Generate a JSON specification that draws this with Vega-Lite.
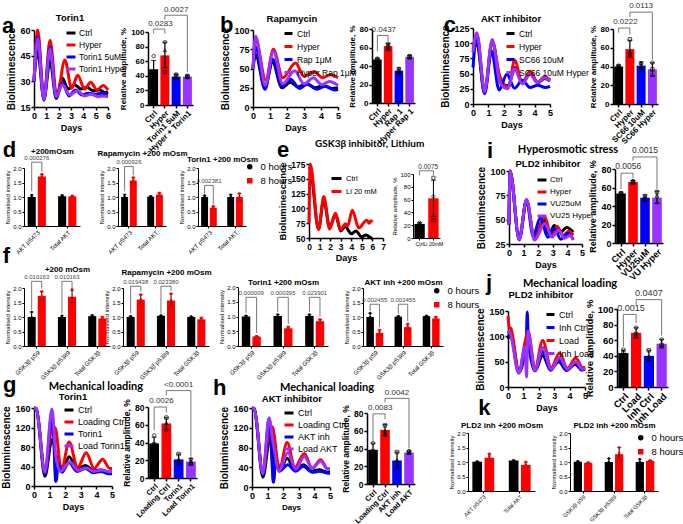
{
"$schema":"https://vega.github.io/schema/vega-lite/v6.json",
"width":683,"height":524,
"autosize":{"type":"none"},
"padding":0,
"background":"white",
"resolve":{"scale":{"x":"independent","y":"independent","color":"independent","shape":"independent","xOffset":"independent"},"axis":{"x":"independent","y":"independent"},"legend":{"color":"independent","shape":"independent"}},
"config":{
 "view":{"stroke":null},
 "font":"Liberation Sans",
 "axis":{"grid":false,"domainColor":"#000","tickColor":"#000","labelColor":"#000","titleColor":"#000","domainWidth":1.5,"tickWidth":1.5,"tickSize":3,"labelFont":"Liberation Sans","titleFont":"Liberation Sans","labelFontWeight":"bold","titleFontWeight":"bold","labelFontSize":8.5,"titleFontSize":9,"labelPadding":1,"titlePadding":3,"labelFlush":false,"labelOverlap":false},
 "legend":{"labelFont":"Liberation Sans","labelColor":"#000","symbolType":"stroke","symbolStrokeWidth":3,"symbolSize":100,"labelFontSize":9,"rowPadding":0,"labelOffset":3,"padding":0,"orient":"none"},
 "text":{"font":"Liberation Sans","color":"#000"}
},
"layer":[
{"layer":[
 {"data":{"values":[
{"s":"Ctrl","t":0,"v":30},{"s":"Ctrl","t":0.3,"v":48},{"s":"Ctrl","t":0.8,"v":19.5},{"s":"Ctrl","t":1.3,"v":42},{"s":"Ctrl","t":1.8,"v":20},{"s":"Ctrl","t":2.3,"v":32},{"s":"Ctrl","t":2.75,"v":25.5},{"s":"Ctrl","t":3.3,"v":28},{"s":"Ctrl","t":3.8,"v":25.5},{"s":"Ctrl","t":4.3,"v":26.5},{"s":"Ctrl","t":4.8,"v":24.5},{"s":"Ctrl","t":5.3,"v":25},{"s":"Ctrl","t":5.8,"v":23.5},{"s":"Ctrl","t":6,"v":24},
{"s":"Hyper","t":0,"v":30},{"s":"Hyper","t":0.3,"v":60},{"s":"Hyper","t":0.8,"v":20},{"s":"Hyper","t":1.3,"v":54},{"s":"Hyper","t":1.85,"v":21},{"s":"Hyper","t":2.5,"v":42.5},{"s":"Hyper","t":3.05,"v":26},{"s":"Hyper","t":3.55,"v":33.5},{"s":"Hyper","t":4.1,"v":25.5},{"s":"Hyper","t":4.6,"v":29.5},{"s":"Hyper","t":5.1,"v":25},{"s":"Hyper","t":5.6,"v":27.5},{"s":"Hyper","t":6,"v":25},
{"s":"Torin1 5uM","t":0,"v":30},{"s":"Torin1 5uM","t":0.3,"v":56},{"s":"Torin1 5uM","t":0.8,"v":19},{"s":"Torin1 5uM","t":1.3,"v":50},{"s":"Torin1 5uM","t":1.8,"v":20.5},{"s":"Torin1 5uM","t":2.3,"v":29},{"s":"Torin1 5uM","t":2.85,"v":21.5},{"s":"Torin1 5uM","t":3.35,"v":25},{"s":"Torin1 5uM","t":3.9,"v":22},{"s":"Torin1 5uM","t":4.4,"v":23},{"s":"Torin1 5uM","t":5,"v":22.5},{"s":"Torin1 5uM","t":5.5,"v":23},{"s":"Torin1 5uM","t":6,"v":22.5},
{"s":"Torin1 Hyper","t":0,"v":30},{"s":"Torin1 Hyper","t":0.3,"v":55},{"s":"Torin1 Hyper","t":0.8,"v":19.5},{"s":"Torin1 Hyper","t":1.3,"v":49},{"s":"Torin1 Hyper","t":1.8,"v":21},{"s":"Torin1 Hyper","t":2.3,"v":28},{"s":"Torin1 Hyper","t":2.9,"v":22},{"s":"Torin1 Hyper","t":3.5,"v":24.5},{"s":"Torin1 Hyper","t":4.1,"v":21.5},{"s":"Torin1 Hyper","t":4.6,"v":22.5},{"s":"Torin1 Hyper","t":5.2,"v":21},{"s":"Torin1 Hyper","t":5.6,"v":21.5},{"s":"Torin1 Hyper","t":6,"v":21}]},
  "mark":{"type":"line","strokeWidth":3,"interpolate":"monotone"},
  "encoding":{
   "x":{"field":"t","type":"quantitative","scale":{"domain":[0,6],"range":[34,108],"nice":false,"zero":false},"axis":{"orient":"bottom","offset":-417,"values":[0,1,2,3,4,5,6],"format":"d","title":"Days","labelFontSize":9,"titleFontSize":9}},
   "y":{"field":"v","type":"quantitative","scale":{"domain":[15,60],"range":[107,30],"nice":false,"zero":false},"axis":{"orient":"left","offset":-34,"values":[15,30,45,60],"format":"d","title":"Bioluminescence","labelFontSize":9,"titleFontSize":10}},
   "color":{"field":"s","type":"nominal","scale":{"domain":["Ctrl","Hyper","Torin1 5uM","Torin1 Hyper"],"range":["#000000","#ff0000","#0000ff","#9933ff"]},"legend":{"title":null,"legendX":65,"legendY":27,"labelFontSize":8.5,"labelOffset":2,"symbolSize":81}}}},
 {"data":{"values":[{"t":2.92,"v":65.3,"lab":"Torin1"}]},"mark":{"type":"text","fontWeight":"bold","fontSize":9.5,"baseline":"alphabetic"},"encoding":{"x":{"field":"t","type":"quantitative"},"y":{"field":"v","type":"quantitative"},"text":{"field":"lab"}}},
 {"data":{"values":[{"t":-2.6,"v":58.2,"lab":"a"}]},"mark":{"type":"text","fontWeight":"bold","fontSize":22,"align":"left","baseline":"alphabetic"},"encoding":{"x":{"field":"t","type":"quantitative"},"y":{"field":"v","type":"quantitative"},"text":{"field":"lab"}}}
]},
{"encoding":{"x":{"field":"g","type":"nominal","scale":{"domain":["Ctrl","Hyper","Torin1 5uM","Hyper + Torin1"],"range":[148,193],"paddingInner":0.2,"paddingOuter":0.1},"axis":{"orient":"bottom","offset":-419,"title":null,"labelAngle":-45,"labelFontSize":8}}},
 "layer":[
  {"data":{"values":[{"g":"Ctrl","m":49,"lo":37,"hi":61},{"g":"Hyper","m":68,"lo":51,"hi":86},{"g":"Torin1 5uM","m":39,"lo":36,"hi":42},{"g":"Hyper + Torin1","m":39,"lo":37,"hi":41}]},
   "layer":[
    {"mark":"bar","encoding":{"y":{"field":"m","type":"quantitative","scale":{"domain":[0,100],"range":[105,32],"nice":false},"axis":{"orient":"left","offset":-148,"values":[0,20,40,60,80,100],"title":"Relative amplitude, %","labelFontSize":8,"titleFontSize":8}},"color":{"field":"g","type":"nominal","scale":{"domain":["Ctrl","Hyper","Torin1 5uM","Hyper + Torin1"],"range":["#000000","#ff0000","#0000ff","#9933ff"]},"legend":null}}},
    {"mark":{"type":"rule","color":"#000","strokeWidth":1.2},"encoding":{"y":{"field":"lo","type":"quantitative"},"y2":{"field":"hi"}}},
    {"mark":{"type":"tick","color":"#000","size":5,"thickness":1.2},"encoding":{"y":{"field":"hi","type":"quantitative"}}},
    {"mark":{"type":"tick","color":"#000","size":5,"thickness":1.2},"encoding":{"y":{"field":"lo","type":"quantitative"}}}]},
  {"data":{"values":[{"g":"Ctrl","v":67,"r":1},{"g":"Ctrl","v":42,"r":2},{"g":"Ctrl","v":38,"r":3},{"g":"Hyper","v":86,"r":1},{"g":"Hyper","v":75,"r":3},{"g":"Hyper","v":45,"r":2},{"g":"Torin1 5uM","v":42,"r":1},{"g":"Torin1 5uM","v":40,"r":2},{"g":"Torin1 5uM","v":38,"r":3},{"g":"Torin1 5uM","v":36,"r":1},{"g":"Hyper + Torin1","v":40,"r":1},{"g":"Hyper + Torin1","v":39,"r":2},{"g":"Hyper + Torin1","v":38,"r":3}]},
   "mark":{"type":"point","filled":false,"color":"#000","size":12,"strokeWidth":1},
   "encoding":{"y":{"field":"v","type":"quantitative"},"shape":{"field":"r","type":"nominal","scale":{"domain":[1,2,3],"range":["circle","square","triangle-up"]},"legend":null}}},
  {"data":{"values":[{"b":1,"o":1,"g":"Ctrl","y":98},{"b":1,"o":2,"g":"Ctrl","y":104},{"b":1,"o":3,"g":"Hyper","y":104},{"b":1,"o":4,"g":"Hyper","y":98},{"b":2,"o":1,"g":"Hyper","y":117},{"b":2,"o":2,"g":"Hyper","y":123},{"b":2,"o":3,"g":"Hyper + Torin1","y":123},{"b":2,"o":4,"g":"Hyper + Torin1","y":45}]},
   "mark":{"type":"line","color":"#777","strokeWidth":1},
   "encoding":{"y":{"field":"y","type":"quantitative"},"detail":{"field":"b"},"order":{"field":"o"}}},
  {"data":{"values":[{"g":"Hyper","y":106,"p":"0.0283"}]},"mark":{"type":"text","fontSize":8,"baseline":"bottom","color":"#333"},
   "encoding":{"x":{"field":"g","type":"nominal","bandPosition":0},"y":{"field":"y","type":"quantitative"},"text":{"field":"p"}}},
  {"data":{"values":[{"g":"Torin1 5uM","y":125,"p":"0.0027"}]},"mark":{"type":"text","fontSize":8,"baseline":"bottom","color":"#333"},
   "encoding":{"y":{"field":"y","type":"quantitative"},"text":{"field":"p"}}}
 ]},
{"layer":[
 {"data":{"values":[
{"s":"Ctrl","t":0,"v":50},{"s":"Ctrl","t":0.15,"v":68},{"s":"Ctrl","t":0.7,"v":25},{"s":"Ctrl","t":1.15,"v":58},{"s":"Ctrl","t":1.7,"v":25},{"s":"Ctrl","t":2.2,"v":32},{"s":"Ctrl","t":2.65,"v":26},{"s":"Ctrl","t":3.15,"v":30},{"s":"Ctrl","t":3.65,"v":25},{"s":"Ctrl","t":4.15,"v":28},{"s":"Ctrl","t":4.65,"v":24},{"s":"Ctrl","t":5,"v":25},
{"s":"Hyper","t":0,"v":50},{"s":"Hyper","t":0.15,"v":88},{"s":"Hyper","t":0.75,"v":35},{"s":"Hyper","t":1.2,"v":75},{"s":"Hyper","t":1.75,"v":38},{"s":"Hyper","t":2.5,"v":57},{"s":"Hyper","t":3.0,"v":40},{"s":"Hyper","t":3.6,"v":46},{"s":"Hyper","t":4.1,"v":38},{"s":"Hyper","t":4.55,"v":42},{"s":"Hyper","t":5,"v":38},
{"s":"Rap 1μM","t":0,"v":50},{"s":"Rap 1μM","t":0.15,"v":78},{"s":"Rap 1μM","t":0.7,"v":23},{"s":"Rap 1μM","t":1.15,"v":62},{"s":"Rap 1μM","t":1.7,"v":27},{"s":"Rap 1μM","t":2.2,"v":36},{"s":"Rap 1μM","t":2.75,"v":24},{"s":"Rap 1μM","t":3.2,"v":30},{"s":"Rap 1μM","t":3.75,"v":23},{"s":"Rap 1μM","t":4.25,"v":27},{"s":"Rap 1μM","t":4.8,"v":22},{"s":"Rap 1μM","t":5,"v":23},
{"s":"Hyper Rap 1μM","t":0,"v":50},{"s":"Hyper Rap 1μM","t":0.15,"v":92},{"s":"Hyper Rap 1μM","t":0.72,"v":28},{"s":"Hyper Rap 1μM","t":1.2,"v":72},{"s":"Hyper Rap 1μM","t":1.75,"v":30},{"s":"Hyper Rap 1μM","t":2.45,"v":47},{"s":"Hyper Rap 1μM","t":3.0,"v":30},{"s":"Hyper Rap 1μM","t":3.55,"v":38},{"s":"Hyper Rap 1μM","t":4.05,"v":29},{"s":"Hyper Rap 1μM","t":4.5,"v":33},{"s":"Hyper Rap 1μM","t":5,"v":28}]},
  "mark":{"type":"line","strokeWidth":3,"interpolate":"monotone"},
  "encoding":{
   "x":{"field":"t","type":"quantitative","scale":{"domain":[0,5],"range":[253,338],"nice":false,"zero":false},"axis":{"orient":"bottom","offset":-417,"values":[0,1,2,3,4,5],"format":"d","title":"Days","labelFontSize":9,"titleFontSize":9}},
   "y":{"field":"v","type":"quantitative","scale":{"domain":[0,100],"range":[107,30],"nice":false},"axis":{"orient":"left","offset":-253,"values":[0,25,50,75,100],"format":"d","title":"Bioluminescence","labelFontSize":9,"titleFontSize":10}},
   "color":{"field":"s","type":"nominal","scale":{"domain":["Ctrl","Hyper","Rap 1μM","Hyper Rap 1μM"],"range":["#000000","#ff0000","#0000ff","#9933ff"]},"legend":{"title":null,"legendX":283,"legendY":28,"labelFontSize":8.5,"symbolSize":64}}}},
 {"data":{"values":[{"t":2.29,"v":110.4,"lab":"Rapamycin"}]},"mark":{"type":"text","fontWeight":"bold","fontSize":9.5,"baseline":"alphabetic"},"encoding":{"x":{"field":"t","type":"quantitative"},"y":{"field":"v","type":"quantitative"},"text":{"field":"lab"}}},
 {"data":{"values":[{"t":-1.94,"v":97.4,"lab":"b"}]},"mark":{"type":"text","fontWeight":"bold","fontSize":22,"align":"left","baseline":"alphabetic"},"encoding":{"x":{"field":"t","type":"quantitative"},"y":{"field":"v","type":"quantitative"},"text":{"field":"lab"}}}
]},
{"encoding":{"x":{"field":"g","type":"nominal","scale":{"domain":["Ctrl","Hyper","Rap 1","Hyper Rap 1"],"range":[372,415],"paddingInner":0.2,"paddingOuter":0.1},"axis":{"orient":"bottom","offset":-421,"title":null,"labelAngle":-45,"labelFontSize":8}}},
 "layer":[
  {"data":{"values":[{"g":"Ctrl","m":47,"lo":45.5,"hi":48.5},{"g":"Hyper","m":61.5,"lo":58,"hi":64.5},{"g":"Rap 1","m":35,"lo":32,"hi":38},{"g":"Hyper Rap 1","m":50,"lo":48.5,"hi":51.5}]},
   "layer":[
    {"mark":"bar","encoding":{"y":{"field":"m","type":"quantitative","scale":{"domain":[0,80],"range":[103,29],"nice":false},"axis":{"orient":"left","offset":-372,"values":[0,20,40,60,80],"title":"Relative amplitude, %","labelFontSize":8,"titleFontSize":8}},"color":{"field":"g","type":"nominal","scale":{"domain":["Ctrl","Hyper","Rap 1","Hyper Rap 1"],"range":["#000000","#ff0000","#0000ff","#9933ff"]},"legend":null}}},
    {"mark":{"type":"rule","color":"#000","strokeWidth":1.2},"encoding":{"y":{"field":"lo","type":"quantitative"},"y2":{"field":"hi"}}},
    {"mark":{"type":"tick","color":"#000","size":5,"thickness":1.2},"encoding":{"y":{"field":"hi","type":"quantitative"}}},
    {"mark":{"type":"tick","color":"#000","size":5,"thickness":1.2},"encoding":{"y":{"field":"lo","type":"quantitative"}}}]},
  {"data":{"values":[{"g":"Ctrl","v":48,"r":1},{"g":"Ctrl","v":47,"r":2},{"g":"Ctrl","v":46,"r":3},{"g":"Hyper","v":64,"r":1},{"g":"Hyper","v":61,"r":2},{"g":"Hyper","v":58,"r":3},{"g":"Rap 1","v":37,"r":1},{"g":"Rap 1","v":34,"r":2},{"g":"Rap 1","v":32,"r":3},{"g":"Hyper Rap 1","v":51,"r":1},{"g":"Hyper Rap 1","v":50,"r":2},{"g":"Hyper Rap 1","v":49,"r":3}]},
   "mark":{"type":"point","filled":false,"color":"#000","size":12,"strokeWidth":1},
   "encoding":{"y":{"field":"v","type":"quantitative"},"shape":{"field":"r","type":"nominal","scale":{"domain":[1,2,3],"range":["circle","square","triangle-up"]},"legend":null}}},
  {"data":{"values":[{"b":1,"o":1,"g":"Ctrl","y":56},{"b":1,"o":2,"g":"Ctrl","y":73},{"b":1,"o":3,"g":"Hyper","y":73},{"b":1,"o":4,"g":"Hyper","y":67}]},
   "mark":{"type":"line","color":"#777","strokeWidth":1},
   "encoding":{"y":{"field":"y","type":"quantitative"},"detail":{"field":"b"},"order":{"field":"o"}}},
  {"data":{"values":[{"g":"Hyper","y":74.5,"p":"0.0437"}]},"mark":{"type":"text","fontSize":8,"baseline":"bottom","color":"#333"},
   "encoding":{"x":{"field":"g","type":"nominal","bandPosition":0},"y":{"field":"y","type":"quantitative"},"text":{"field":"p"}}}
 ]},
{"layer":[
 {"data":{"values":[
{"s":"Ctrl","t":0,"v":85},{"s":"Ctrl","t":0.25,"v":100},{"s":"Ctrl","t":0.75,"v":18},{"s":"Ctrl","t":1.25,"v":103},{"s":"Ctrl","t":1.8,"v":35},{"s":"Ctrl","t":2.3,"v":30},{"s":"Ctrl","t":2.7,"v":60},{"s":"Ctrl","t":3.2,"v":35},{"s":"Ctrl","t":3.7,"v":50},{"s":"Ctrl","t":4.2,"v":35},{"s":"Ctrl","t":4.65,"v":42},{"s":"Ctrl","t":5,"v":38},
{"s":"Hyper","t":0,"v":90},{"s":"Hyper","t":0.25,"v":115},{"s":"Hyper","t":0.75,"v":22},{"s":"Hyper","t":1.25,"v":103},{"s":"Hyper","t":1.75,"v":45},{"s":"Hyper","t":2.3,"v":27},{"s":"Hyper","t":2.7,"v":72},{"s":"Hyper","t":3.2,"v":35},{"s":"Hyper","t":3.7,"v":54},{"s":"Hyper","t":4.2,"v":36},{"s":"Hyper","t":4.65,"v":45},{"s":"Hyper","t":5,"v":40},
{"s":"SC66 10uM","t":0,"v":60},{"s":"SC66 10uM","t":0.25,"v":113},{"s":"SC66 10uM","t":0.75,"v":17},{"s":"SC66 10uM","t":1.2,"v":87},{"s":"SC66 10uM","t":1.7,"v":23},{"s":"SC66 10uM","t":2.2,"v":49},{"s":"SC66 10uM","t":2.7,"v":26},{"s":"SC66 10uM","t":3.2,"v":39},{"s":"SC66 10uM","t":3.7,"v":27},{"s":"SC66 10uM","t":4.2,"v":31},{"s":"SC66 10uM","t":4.7,"v":27},{"s":"SC66 10uM","t":5,"v":29},
{"s":"SC66 10uM Hyper","t":0,"v":85},{"s":"SC66 10uM Hyper","t":0.25,"v":117},{"s":"SC66 10uM Hyper","t":0.75,"v":20},{"s":"SC66 10uM Hyper","t":1.25,"v":106},{"s":"SC66 10uM Hyper","t":1.75,"v":35},{"s":"SC66 10uM Hyper","t":2.25,"v":25},{"s":"SC66 10uM Hyper","t":2.7,"v":58},{"s":"SC66 10uM Hyper","t":3.2,"v":33},{"s":"SC66 10uM Hyper","t":3.7,"v":49},{"s":"SC66 10uM Hyper","t":4.2,"v":35},{"s":"SC66 10uM Hyper","t":4.65,"v":43},{"s":"SC66 10uM Hyper","t":5,"v":38}]},
  "mark":{"type":"line","strokeWidth":3,"interpolate":"monotone"},
  "encoding":{
   "x":{"field":"t","type":"quantitative","scale":{"domain":[0,5],"range":[473,550],"nice":false,"zero":false},"axis":{"orient":"bottom","offset":-420,"values":[0,1,2,3,4,5],"format":"d","title":"Days","labelFontSize":9,"titleFontSize":9}},
   "y":{"field":"v","type":"quantitative","scale":{"domain":[0,125],"range":[104,28],"nice":false},"axis":{"orient":"left","offset":-473,"values":[0,25,50,75,100,125],"format":"d","title":"Bioluminescence","labelFontSize":9,"titleFontSize":10}},
   "color":{"field":"s","type":"nominal","scale":{"domain":["Ctrl","Hyper","SC66 10uM","SC66 10uM Hyper"],"range":["#000000","#ff0000","#0000ff","#9933ff"]},"legend":{"title":null,"legendX":505,"legendY":28,"labelFontSize":8.5,"symbolSize":64}}}},
 {"data":{"values":[{"t":2.47,"v":134.9,"lab":"AKT inhibitor"}]},"mark":{"type":"text","fontWeight":"bold","fontSize":9.5,"baseline":"alphabetic"},"encoding":{"x":{"field":"t","type":"quantitative"},"y":{"field":"v","type":"quantitative"},"text":{"field":"lab"}}},
 {"data":{"values":[{"t":-1.9,"v":118.4,"lab":"c"}]},"mark":{"type":"text","fontWeight":"bold","fontSize":22,"align":"left","baseline":"alphabetic"},"encoding":{"x":{"field":"t","type":"quantitative"},"y":{"field":"v","type":"quantitative"},"text":{"field":"lab"}}}
]},
{"encoding":{"x":{"field":"g","type":"nominal","scale":{"domain":["Ctrl","Hyper","SC66 10uM","SC66 Hyper"],"range":[613,658],"paddingInner":0.2,"paddingOuter":0.1},"axis":{"orient":"bottom","offset":-420,"title":null,"labelAngle":-45,"labelFontSize":8}}},
 "layer":[
  {"data":{"values":[{"g":"Ctrl","m":40,"lo":39,"hi":41.5},{"g":"Hyper","m":58.5,"lo":50,"hi":68},{"g":"SC66 10uM","m":41,"lo":37,"hi":45},{"g":"SC66 Hyper","m":37,"lo":30,"hi":44}]},
   "layer":[
    {"mark":"bar","encoding":{"y":{"field":"m","type":"quantitative","scale":{"domain":[0,80],"range":[104,29],"nice":false},"axis":{"orient":"left","offset":-613,"values":[0,20,40,60,80],"title":"Relative amplitude, %","labelFontSize":8,"titleFontSize":8}},"color":{"field":"g","type":"nominal","scale":{"domain":["Ctrl","Hyper","SC66 10uM","SC66 Hyper"],"range":["#000000","#ff0000","#0000ff","#9933ff"]},"legend":null}}},
    {"mark":{"type":"rule","color":"#000","strokeWidth":1.2},"encoding":{"y":{"field":"lo","type":"quantitative"},"y2":{"field":"hi"}}},
    {"mark":{"type":"tick","color":"#000","size":5,"thickness":1.2},"encoding":{"y":{"field":"hi","type":"quantitative"}}},
    {"mark":{"type":"tick","color":"#000","size":5,"thickness":1.2},"encoding":{"y":{"field":"lo","type":"quantitative"}}}]},
  {"data":{"values":[{"g":"Ctrl","v":41,"r":1},{"g":"Ctrl","v":40,"r":2},{"g":"Ctrl","v":39.5,"r":3},{"g":"Hyper","v":69,"r":2},{"g":"Hyper","v":54,"r":1},{"g":"Hyper","v":53,"r":3},{"g":"SC66 10uM","v":44,"r":3},{"g":"SC66 10uM","v":43,"r":1},{"g":"SC66 10uM","v":37,"r":2},{"g":"SC66 Hyper","v":44,"r":1},{"g":"SC66 Hyper","v":37,"r":2},{"g":"SC66 Hyper","v":31,"r":3}]},
   "mark":{"type":"point","filled":false,"color":"#000","size":12,"strokeWidth":1},
   "encoding":{"y":{"field":"v","type":"quantitative"},"shape":{"field":"r","type":"nominal","scale":{"domain":[1,2,3],"range":["circle","square","triangle-up"]},"legend":null}}},
  {"data":{"values":[{"b":1,"o":1,"g":"Ctrl","y":76},{"b":1,"o":2,"g":"Ctrl","y":81},{"b":1,"o":3,"g":"Hyper","y":81},{"b":1,"o":4,"g":"Hyper","y":74},{"b":2,"o":1,"g":"Hyper","y":93},{"b":2,"o":2,"g":"Hyper","y":98},{"b":2,"o":3,"g":"SC66 Hyper","y":98},{"b":2,"o":4,"g":"SC66 Hyper","y":47}]},
   "mark":{"type":"line","color":"#777","strokeWidth":1},
   "encoding":{"y":{"field":"y","type":"quantitative"},"detail":{"field":"b"},"order":{"field":"o"}}},
  {"data":{"values":[{"g":"Hyper","y":83,"p":"0.0222"}]},"mark":{"type":"text","fontSize":8,"baseline":"bottom","color":"#333"},
   "encoding":{"x":{"field":"g","type":"nominal","bandPosition":0},"y":{"field":"y","type":"quantitative"},"text":{"field":"p"}}},
  {"data":{"values":[{"g":"SC66 10uM","y":100,"p":"0.0113"}]},"mark":{"type":"text","fontSize":8,"baseline":"bottom","color":"#333"},
   "encoding":{"y":{"field":"y","type":"quantitative"},"text":{"field":"p"}}}
 ]},
{"encoding":{"x":{"field":"g","type":"nominal","scale":{"domain":["AKT pS473","Total AKT"],"range":[24,80],"paddingInner":0.4,"paddingOuter":0.12},"axis":{"orient":"bottom","offset":-298,"title":"+200mOsm","titleY":-73,"titleBaseline":"alphabetic","titleFontSize":8,"labelAngle":-45,"labelFontSize":6,"labelFontWeight":"normal","domainWidth":1,"tickWidth":1,"tickSize":2}}},
 "layer":[
  {"data":{"values":[{"g":"AKT pS473","h":"0 hours","m":1.0,"lo":0.93,"hi":1.07},{"g":"AKT pS473","h":"8 hours","m":1.71,"lo":1.65,"hi":1.78},{"g":"Total AKT","h":"0 hours","m":1.03,"lo":1.0,"hi":1.06},{"g":"Total AKT","h":"8 hours","m":1.02,"lo":1.0,"hi":1.04}]},
   "encoding":{"xOffset":{"field":"h","type":"nominal","scale":{"domain":["0 hours","8 hours"],"paddingInner":0.2}}},
   "layer":[
    {"mark":"bar","encoding":{"y":{"field":"m","type":"quantitative","scale":{"domain":[0,2],"range":[226,168],"nice":false},"axis":{"orient":"left","offset":-24,"values":[0,0.5,1,1.5,2],"format":".1f","title":"Normalised intensity","labelFontSize":6,"titleFontSize":6,"labelFontWeight":"normal","titleFontWeight":"normal","domainWidth":1,"tickWidth":1,"tickSize":2,"titlePadding":2}},"color":{"field":"h","type":"nominal","scale":{"domain":["0 hours","8 hours"],"range":["#000000","#ff0000"]},"legend":null}}},
    {"mark":{"type":"rule","color":"#000","strokeWidth":1},"encoding":{"y":{"field":"lo","type":"quantitative"},"y2":{"field":"hi"}}},
    {"mark":{"type":"tick","color":"#000","size":4,"thickness":1},"encoding":{"y":{"field":"hi","type":"quantitative"}}},
    {"mark":{"type":"tick","color":"#000","size":4,"thickness":1},"encoding":{"y":{"field":"lo","type":"quantitative"}}}]},
  {"data":{"values":[{"g":"AKT pS473","h":"0 hours","v":1.07},{"g":"AKT pS473","h":"0 hours","v":1.0},{"g":"AKT pS473","h":"0 hours","v":0.94},{"g":"AKT pS473","h":"8 hours","v":1.78},{"g":"AKT pS473","h":"8 hours","v":1.7},{"g":"AKT pS473","h":"8 hours","v":1.66},{"g":"Total AKT","h":"0 hours","v":1.06},{"g":"Total AKT","h":"0 hours","v":1.03},{"g":"Total AKT","h":"0 hours","v":1.0},{"g":"Total AKT","h":"8 hours","v":1.04},{"g":"Total AKT","h":"8 hours","v":1.02},{"g":"Total AKT","h":"8 hours","v":1.0}]},
   "mark":{"type":"point","filled":true,"size":6,"opacity":1},
   "encoding":{"xOffset":{"field":"h","type":"nominal"},"y":{"field":"v","type":"quantitative"},"color":{"field":"h","type":"nominal","legend":null},"shape":{"field":"h","type":"nominal","scale":{"domain":["0 hours","8 hours"],"range":["circle","square"]},"legend":null}}},
  {"data":{"values":[{"b":1,"o":1,"g":"AKT pS473","h":"0 hours","y":1.2},{"b":1,"o":2,"g":"AKT pS473","h":"0 hours","y":2.2},{"b":1,"o":3,"g":"AKT pS473","h":"8 hours","y":2.2},{"b":1,"o":4,"g":"AKT pS473","h":"8 hours","y":1.87}]},
   "mark":{"type":"line","color":"#555","strokeWidth":0.8},
   "encoding":{"xOffset":{"field":"h","type":"nominal"},"y":{"field":"y","type":"quantitative"},"detail":{"field":"b"},"order":{"field":"o"}}},
  {"data":{"values":[{"g":"AKT pS473","y":2.25,"p":"0.000276"}]},"mark":{"type":"text","fontSize":6,"baseline":"bottom","color":"#444"},
   "encoding":{"y":{"field":"y","type":"quantitative"},"text":{"field":"p"}}},
  {"data":{"values":[{"g":"AKT pS473","y":2.38,"p":"d"}]},"mark":{"type":"text","fontSize":22,"fontWeight":"bold","align":"left","baseline":"alphabetic","dx":-34},
   "encoding":{"y":{"field":"y","type":"quantitative"},"text":{"field":"p"}}}
 ]},
{"encoding":{"x":{"field":"g","type":"nominal","scale":{"domain":["AKT pS473","Total AKT"],"range":[118,166],"paddingInner":0.4,"paddingOuter":0.12},"axis":{"orient":"bottom","offset":-298,"title":"Rapamycin +200 mOsm","titleY":-71,"titleBaseline":"alphabetic","titleFontSize":8,"labelAngle":-45,"labelFontSize":6,"labelFontWeight":"normal","domainWidth":1,"tickWidth":1,"tickSize":2}}},
 "layer":[
  {"data":{"values":[{"g":"AKT pS473","h":"0 hours","m":1.0,"lo":0.93,"hi":1.08},{"g":"AKT pS473","h":"8 hours","m":1.57,"lo":1.49,"hi":1.67},{"g":"Total AKT","h":"0 hours","m":1.01,"lo":0.99,"hi":1.03},{"g":"Total AKT","h":"8 hours","m":1.08,"lo":1.02,"hi":1.14}]},
   "encoding":{"xOffset":{"field":"h","type":"nominal","scale":{"domain":["0 hours","8 hours"],"paddingInner":0.2}}},
   "layer":[
    {"mark":"bar","encoding":{"y":{"field":"m","type":"quantitative","scale":{"domain":[0,2],"range":[226,168],"nice":false},"axis":{"orient":"left","offset":-118,"values":[0,0.5,1,1.5,2],"format":".1f","title":"Normalised intensity","labelFontSize":6,"titleFontSize":6,"labelFontWeight":"normal","titleFontWeight":"normal","domainWidth":1,"tickWidth":1,"tickSize":2,"titlePadding":2}},"color":{"field":"h","type":"nominal","scale":{"domain":["0 hours","8 hours"],"range":["#000000","#ff0000"]},"legend":null}}},
    {"mark":{"type":"rule","color":"#000","strokeWidth":1},"encoding":{"y":{"field":"lo","type":"quantitative"},"y2":{"field":"hi"}}},
    {"mark":{"type":"tick","color":"#000","size":4,"thickness":1},"encoding":{"y":{"field":"hi","type":"quantitative"}}},
    {"mark":{"type":"tick","color":"#000","size":4,"thickness":1},"encoding":{"y":{"field":"lo","type":"quantitative"}}}]},
  {"data":{"values":[{"g":"AKT pS473","h":"0 hours","v":1.08},{"g":"AKT pS473","h":"0 hours","v":1.0},{"g":"AKT pS473","h":"0 hours","v":0.93},{"g":"AKT pS473","h":"8 hours","v":1.67},{"g":"AKT pS473","h":"8 hours","v":1.57},{"g":"AKT pS473","h":"8 hours","v":1.5},{"g":"Total AKT","h":"0 hours","v":1.03},{"g":"Total AKT","h":"0 hours","v":1.01},{"g":"Total AKT","h":"0 hours","v":0.99},{"g":"Total AKT","h":"8 hours","v":1.14},{"g":"Total AKT","h":"8 hours","v":1.08},{"g":"Total AKT","h":"8 hours","v":1.02}]},
   "mark":{"type":"point","filled":true,"size":6,"opacity":1},
   "encoding":{"xOffset":{"field":"h","type":"nominal"},"y":{"field":"v","type":"quantitative"},"color":{"field":"h","type":"nominal","legend":null},"shape":{"field":"h","type":"nominal","scale":{"domain":["0 hours","8 hours"],"range":["circle","square"]},"legend":null}}},
  {"data":{"values":[{"b":1,"o":1,"g":"AKT pS473","h":"0 hours","y":1.2},{"b":1,"o":2,"g":"AKT pS473","h":"0 hours","y":2.05},{"b":1,"o":3,"g":"AKT pS473","h":"8 hours","y":2.05},{"b":1,"o":4,"g":"AKT pS473","h":"8 hours","y":1.75}]},
   "mark":{"type":"line","color":"#555","strokeWidth":0.8},
   "encoding":{"xOffset":{"field":"h","type":"nominal"},"y":{"field":"y","type":"quantitative"},"detail":{"field":"b"},"order":{"field":"o"}}},
  {"data":{"values":[{"g":"AKT pS473","y":2.1,"p":"0.000926"}]},"mark":{"type":"text","fontSize":6,"baseline":"bottom","color":"#444"},
   "encoding":{"y":{"field":"y","type":"quantitative"},"text":{"field":"p"}}}
 ]},
{"encoding":{"x":{"field":"g","type":"nominal","scale":{"domain":["AKT pS473","Total AKT"],"range":[198,246],"paddingInner":0.4,"paddingOuter":0.12},"axis":{"orient":"bottom","offset":-298,"title":"Torin1 +200 mOsm","titleY":-65,"titleBaseline":"alphabetic","titleFontSize":8,"labelAngle":-45,"labelFontSize":6,"labelFontWeight":"normal","domainWidth":1,"tickWidth":1,"tickSize":2}}},
 "layer":[
  {"data":{"values":[{"g":"AKT pS473","h":"0 hours","m":1.0,"lo":0.95,"hi":1.05},{"g":"AKT pS473","h":"8 hours","m":0.63,"lo":0.58,"hi":0.68},{"g":"Total AKT","h":"0 hours","m":1.0,"lo":0.92,"hi":1.08},{"g":"Total AKT","h":"8 hours","m":1.0,"lo":0.88,"hi":1.12}]},
   "encoding":{"xOffset":{"field":"h","type":"nominal","scale":{"domain":["0 hours","8 hours"],"paddingInner":0.2}}},
   "layer":[
    {"mark":"bar","encoding":{"y":{"field":"m","type":"quantitative","scale":{"domain":[0,2],"range":[226,168],"nice":false},"axis":{"orient":"left","offset":-198,"values":[0,0.5,1,1.5,2],"format":".1f","title":"Normalised intensity","labelFontSize":6,"titleFontSize":6,"labelFontWeight":"normal","titleFontWeight":"normal","domainWidth":1,"tickWidth":1,"tickSize":2,"titlePadding":2}},"color":{"field":"h","type":"nominal","scale":{"domain":["0 hours","8 hours"],"range":["#000000","#ff0000"]},"legend":{"title":null,"legendX":245,"legendY":162,"symbolStrokeWidth":0,"symbolSize":30,"labelFontSize":9.5,"rowPadding":3,"labelOffset":6}}}},
    {"mark":{"type":"rule","color":"#000","strokeWidth":1},"encoding":{"y":{"field":"lo","type":"quantitative"},"y2":{"field":"hi"}}},
    {"mark":{"type":"tick","color":"#000","size":4,"thickness":1},"encoding":{"y":{"field":"hi","type":"quantitative"}}},
    {"mark":{"type":"tick","color":"#000","size":4,"thickness":1},"encoding":{"y":{"field":"lo","type":"quantitative"}}}]},
  {"data":{"values":[{"g":"AKT pS473","h":"0 hours","v":1.05},{"g":"AKT pS473","h":"0 hours","v":1.0},{"g":"AKT pS473","h":"0 hours","v":0.95},{"g":"AKT pS473","h":"8 hours","v":0.68},{"g":"AKT pS473","h":"8 hours","v":0.62},{"g":"AKT pS473","h":"8 hours","v":0.58},{"g":"Total AKT","h":"0 hours","v":1.08},{"g":"Total AKT","h":"0 hours","v":1.0},{"g":"Total AKT","h":"0 hours","v":0.92},{"g":"Total AKT","h":"8 hours","v":1.12},{"g":"Total AKT","h":"8 hours","v":0.98},{"g":"Total AKT","h":"8 hours","v":0.88}]},
   "mark":{"type":"point","filled":true,"size":6,"opacity":1},
   "encoding":{"xOffset":{"field":"h","type":"nominal"},"y":{"field":"v","type":"quantitative"},"color":{"field":"h","type":"nominal","legend":{"title":null,"legendX":245,"legendY":162,"symbolStrokeWidth":0,"symbolSize":30,"labelFontSize":9.5,"rowPadding":3,"labelOffset":6}},"shape":{"field":"h","type":"nominal","scale":{"domain":["0 hours","8 hours"],"range":["circle","square"]},"legend":{"title":null,"legendX":245,"legendY":162,"symbolStrokeWidth":0,"symbolSize":30,"labelFontSize":9.5,"rowPadding":3,"labelOffset":6}}}},
  {"data":{"values":[{"b":1,"o":1,"g":"AKT pS473","h":"0 hours","y":1.1},{"b":1,"o":2,"g":"AKT pS473","h":"0 hours","y":1.4},{"b":1,"o":3,"g":"AKT pS473","h":"8 hours","y":1.4},{"b":1,"o":4,"g":"AKT pS473","h":"8 hours","y":0.75}]},
   "mark":{"type":"line","color":"#555","strokeWidth":0.8},
   "encoding":{"xOffset":{"field":"h","type":"nominal"},"y":{"field":"y","type":"quantitative"},"detail":{"field":"b"},"order":{"field":"o"}}},
  {"data":{"values":[{"g":"AKT pS473","y":1.45,"p":"0.002381"}]},"mark":{"type":"text","fontSize":6,"baseline":"bottom","color":"#444"},
   "encoding":{"y":{"field":"y","type":"quantitative"},"text":{"field":"p"}}}
 ]},
{"layer":[
 {"data":{"values":[
{"s":"Ctrl","t":0,"v":170},{"s":"Ctrl","t":0.15,"v":166},{"s":"Ctrl","t":0.9,"v":65},{"s":"Ctrl","t":1.4,"v":115},{"s":"Ctrl","t":1.95,"v":68},{"s":"Ctrl","t":2.5,"v":90},{"s":"Ctrl","t":3.0,"v":62},{"s":"Ctrl","t":3.45,"v":70},{"s":"Ctrl","t":3.75,"v":62},{"s":"Ctrl","t":4.0,"v":57},{"s":"Ctrl","t":4.45,"v":62},{"s":"Ctrl","t":4.95,"v":52},{"s":"Ctrl","t":5.4,"v":55},{"s":"Ctrl","t":5.9,"v":50},{"s":"Ctrl","t":6,"v":50},
{"s":"Li 20 mM","t":0,"v":75},{"s":"Li 20 mM","t":0.12,"v":175},{"s":"Li 20 mM","t":0.9,"v":64},{"s":"Li 20 mM","t":1.4,"v":120},{"s":"Li 20 mM","t":1.95,"v":65},{"s":"Li 20 mM","t":2.5,"v":92},{"s":"Li 20 mM","t":3.0,"v":64},{"s":"Li 20 mM","t":3.45,"v":74},{"s":"Li 20 mM","t":3.65,"v":70},{"s":"Li 20 mM","t":4.1,"v":97},{"s":"Li 20 mM","t":4.7,"v":67},{"s":"Li 20 mM","t":5.45,"v":80},{"s":"Li 20 mM","t":5.7,"v":75},{"s":"Li 20 mM","t":5.85,"v":79},{"s":"Li 20 mM","t":6,"v":77}]},
  "mark":{"type":"line","strokeWidth":3,"interpolate":"monotone"},
  "encoding":{
   "x":{"field":"t","type":"quantitative","scale":{"domain":[0,7],"range":[309,383],"nice":false,"zero":false},"axis":{"orient":"bottom","offset":-286,"values":[0,1,2,3,4,5,6,7],"format":"d","title":"Days","labelFontSize":8.5,"titleFontSize":9}},
   "y":{"field":"v","type":"quantitative","scale":{"domain":[50,175],"range":[238,164],"nice":false,"zero":false},"axis":{"orient":"left","offset":-309,"values":[50,75,100,125,150,175],"format":"d","title":"Bioluminescence","labelFontSize":8.5,"titleFontSize":9.5}},
   "color":{"field":"s","type":"nominal","scale":{"domain":["Ctrl","Li 20 mM"],"range":["#000000","#ff0000"]},"legend":{"title":null,"legendX":330,"legendY":172,"labelFontSize":7.5,"symbolSize":100}}}},
 {"data":{"values":[{"t":0.57,"v":203.7,"lab":"GSK3β inhibitor, Lithium"}]},"mark":{"type":"text","font":"Lato","fontWeight":"bold","fontSize":10,"align":"left","baseline":"alphabetic"},"encoding":{"x":{"field":"t","type":"quantitative"},"y":{"field":"v","type":"quantitative"},"text":{"field":"lab"}}},
 {"data":{"values":[{"t":-3.03,"v":186.8,"lab":"e"}]},"mark":{"type":"text","fontWeight":"bold","fontSize":22,"align":"left","baseline":"alphabetic"},"encoding":{"x":{"field":"t","type":"quantitative"},"y":{"field":"v","type":"quantitative"},"text":{"field":"lab"}}}
]},
{"encoding":{"x":{"field":"g","type":"nominal","scale":{"domain":["Ctrl","Li 20mM"],"range":[413,440],"paddingInner":0.25,"paddingOuter":0.1},"axis":{"orient":"bottom","offset":-286,"title":null,"labelAngle":0,"labelFontSize":5.2,"labelFontWeight":"normal","domainWidth":1,"tickWidth":1,"tickSize":2}}},
 "layer":[
  {"data":{"values":[{"g":"Ctrl","m":22,"lo":20,"hi":24},{"g":"Li 20mM","m":62,"lo":34,"hi":90}]},
   "layer":[
    {"mark":"bar","encoding":{"y":{"field":"m","type":"quantitative","scale":{"domain":[0,100],"range":[238,174],"nice":false},"axis":{"orient":"left","offset":-413,"values":[0,20,40,60,80,100],"title":"Relative amplitude, %","labelFontSize":6,"titleFontSize":6,"labelFontWeight":"normal","titleFontWeight":"normal","domainWidth":1,"tickWidth":1,"tickSize":2,"titlePadding":2}},"color":{"field":"g","type":"nominal","scale":{"domain":["Ctrl","Li 20mM"],"range":["#000000","#ff0000"]},"legend":null}}},
    {"mark":{"type":"rule","color":"#000","strokeWidth":1},"encoding":{"y":{"field":"lo","type":"quantitative"},"y2":{"field":"hi"}}},
    {"mark":{"type":"tick","color":"#000","size":5,"thickness":1},"encoding":{"y":{"field":"hi","type":"quantitative"}}},
    {"mark":{"type":"tick","color":"#000","size":5,"thickness":1},"encoding":{"y":{"field":"lo","type":"quantitative"}}}]},
  {"data":{"values":[{"g":"Ctrl","v":24,"r":1},{"g":"Ctrl","v":22,"r":2},{"g":"Ctrl","v":21,"r":3},{"g":"Li 20mM","v":94,"r":2},{"g":"Li 20mM","v":65,"r":1},{"g":"Li 20mM","v":28,"r":2}]},
   "mark":{"type":"point","filled":false,"color":"#000","size":10,"strokeWidth":1},
   "encoding":{"y":{"field":"v","type":"quantitative"},"shape":{"field":"r","type":"nominal","scale":{"domain":[1,2,3],"range":["circle","square","triangle-up"]},"legend":null}}},
  {"data":{"values":[{"b":1,"o":1,"g":"Ctrl","y":98},{"b":1,"o":2,"g":"Ctrl","y":105},{"b":1,"o":3,"g":"Li 20mM","y":105},{"b":1,"o":4,"g":"Li 20mM","y":98}]},
   "mark":{"type":"line","color":"#777","strokeWidth":1},
   "encoding":{"y":{"field":"y","type":"quantitative"},"detail":{"field":"b"},"order":{"field":"o"}}},
  {"data":{"values":[{"g":"Li 20mM","y":107,"p":"0.0075"}]},"mark":{"type":"text","fontSize":6.5,"baseline":"bottom","color":"#333"},
   "encoding":{"x":{"field":"g","type":"nominal","bandPosition":0},"y":{"field":"y","type":"quantitative"},"text":{"field":"p"}}}
 ]},
{"layer":[
 {"data":{"values":[
{"s":"Ctrl","t":0,"v":45},{"s":"Ctrl","t":0.07,"v":100},{"s":"Ctrl","t":0.7,"v":30},{"s":"Ctrl","t":1.2,"v":70},{"s":"Ctrl","t":1.75,"v":30},{"s":"Ctrl","t":2.35,"v":50},{"s":"Ctrl","t":2.75,"v":35},{"s":"Ctrl","t":3.1,"v":44},{"s":"Ctrl","t":3.5,"v":37},{"s":"Ctrl","t":3.95,"v":42},{"s":"Ctrl","t":4.4,"v":37},
{"s":"Hyper","t":0,"v":45},{"s":"Hyper","t":0.07,"v":100},{"s":"Hyper","t":0.7,"v":29},{"s":"Hyper","t":1.2,"v":70},{"s":"Hyper","t":1.75,"v":30},{"s":"Hyper","t":2.45,"v":53},{"s":"Hyper","t":2.9,"v":33},{"s":"Hyper","t":3.3,"v":43},{"s":"Hyper","t":3.7,"v":34},{"s":"Hyper","t":4.1,"v":38},{"s":"Hyper","t":4.4,"v":34},
{"s":"VU25uM","t":0,"v":45},{"s":"VU25uM","t":0.07,"v":100},{"s":"VU25uM","t":0.7,"v":30},{"s":"VU25uM","t":1.2,"v":70},{"s":"VU25uM","t":1.65,"v":33},{"s":"VU25uM","t":2.15,"v":52},{"s":"VU25uM","t":2.65,"v":32},{"s":"VU25uM","t":3.1,"v":41},{"s":"VU25uM","t":3.55,"v":30},{"s":"VU25uM","t":4.05,"v":36},{"s":"VU25uM","t":4.4,"v":30},
{"s":"VU25 Hyper","t":0,"v":45},{"s":"VU25 Hyper","t":0.07,"v":100},{"s":"VU25 Hyper","t":0.7,"v":30},{"s":"VU25 Hyper","t":1.2,"v":71},{"s":"VU25 Hyper","t":1.75,"v":29},{"s":"VU25 Hyper","t":2.45,"v":46},{"s":"VU25 Hyper","t":2.95,"v":32},{"s":"VU25 Hyper","t":3.4,"v":39},{"s":"VU25 Hyper","t":3.8,"v":31},{"s":"VU25 Hyper","t":4.2,"v":34},{"s":"VU25 Hyper","t":4.4,"v":29}]},
  "mark":{"type":"line","strokeWidth":3,"interpolate":"monotone"},
  "encoding":{
   "x":{"field":"t","type":"quantitative","scale":{"domain":[0,5],"range":[509,582],"nice":false,"zero":false},"axis":{"orient":"bottom","offset":-280,"values":[0,1,2,3,4,5],"format":"d","title":"Days","labelFontSize":9,"titleFontSize":9}},
   "y":{"field":"v","type":"quantitative","scale":{"domain":[25,100],"range":[244,171],"nice":false,"zero":false},"axis":{"orient":"left","offset":-509,"values":[25,50,75,100],"format":"d","title":"Bioluminescence","labelFontSize":9,"titleFontSize":10}},
   "color":{"field":"s","type":"nominal","scale":{"domain":["Ctrl","Hyper","VU25uM","VU25 Hyper"],"range":["#000000","#ff0000","#0000ff","#9933ff"]},"legend":{"title":null,"legendX":536,"legendY":174,"labelFontSize":8,"labelOffset":2,"symbolSize":81}}}},
 {"data":{"values":[{"t":2.67,"v":104.1,"lab":"PLD2 inhibitor"}]},"mark":{"type":"text","fontWeight":"bold","fontSize":9.5,"baseline":"alphabetic"},"encoding":{"x":{"field":"t","type":"quantitative"},"y":{"field":"v","type":"quantitative"},"text":{"field":"lab"}}},
 {"data":{"values":[{"t":4.04,"v":118.5,"lab":"Hyperosmotic stress"}]},"mark":{"type":"text","font":"Lato","fontWeight":"bold","fontSize":11,"baseline":"alphabetic"},"encoding":{"x":{"field":"t","type":"quantitative"},"y":{"field":"v","type":"quantitative"},"text":{"field":"lab"}}},
 {"data":{"values":[{"t":-1.51,"v":113.4,"lab":"i"}]},"mark":{"type":"text","fontWeight":"bold","fontSize":22,"align":"left","baseline":"alphabetic"},"encoding":{"x":{"field":"t","type":"quantitative"},"y":{"field":"v","type":"quantitative"},"text":{"field":"lab"}}}
]},
{"encoding":{"x":{"field":"g","type":"nominal","scale":{"domain":["Ctrl","Hyper","VU25uM","VU Hyper"],"range":[615,663],"paddingInner":0.2,"paddingOuter":0.1},"axis":{"orient":"bottom","offset":-281,"title":null,"labelAngle":-45,"labelFontSize":9}}},
 "layer":[
  {"data":{"values":[{"g":"Ctrl","m":53.5,"lo":52,"hi":55},{"g":"Hyper","m":66,"lo":64.5,"hi":67.5},{"g":"VU25uM","m":49,"lo":45.5,"hi":52},{"g":"VU Hyper","m":49,"lo":43,"hi":56}]},
   "layer":[
    {"mark":"bar","encoding":{"y":{"field":"m","type":"quantitative","scale":{"domain":[0,80],"range":[243,169],"nice":false},"axis":{"orient":"left","offset":-615,"values":[0,20,40,60,80],"title":"Relative amplitude, %","labelFontSize":9,"titleFontSize":9}},"color":{"field":"g","type":"nominal","scale":{"domain":["Ctrl","Hyper","VU25uM","VU Hyper"],"range":["#000000","#ff0000","#0000ff","#9933ff"]},"legend":null}}},
    {"mark":{"type":"rule","color":"#000","strokeWidth":1.2},"encoding":{"y":{"field":"lo","type":"quantitative"},"y2":{"field":"hi"}}},
    {"mark":{"type":"tick","color":"#000","size":5,"thickness":1.2},"encoding":{"y":{"field":"hi","type":"quantitative"}}},
    {"mark":{"type":"tick","color":"#000","size":5,"thickness":1.2},"encoding":{"y":{"field":"lo","type":"quantitative"}}}]},
  {"data":{"values":[{"g":"Ctrl","v":54,"r":1},{"g":"Ctrl","v":53.5,"r":2},{"g":"Ctrl","v":52.5,"r":3},{"g":"Hyper","v":67,"r":1},{"g":"Hyper","v":66,"r":2},{"g":"Hyper","v":65,"r":3},{"g":"VU25uM","v":51,"r":1},{"g":"VU25uM","v":48,"r":2},{"g":"VU25uM","v":46,"r":3},{"g":"VU Hyper","v":55,"r":2},{"g":"VU Hyper","v":50,"r":1},{"g":"VU Hyper","v":44,"r":3}]},
   "mark":{"type":"point","filled":false,"color":"#000","size":12,"strokeWidth":1},
   "encoding":{"y":{"field":"v","type":"quantitative"},"shape":{"field":"r","type":"nominal","scale":{"domain":[1,2,3],"range":["circle","square","triangle-up"]},"legend":null}}},
  {"data":{"values":[{"b":1,"o":1,"g":"Ctrl","y":58},{"b":1,"o":2,"g":"Ctrl","y":75.5},{"b":1,"o":3,"g":"Hyper","y":75.5},{"b":1,"o":4,"g":"Hyper","y":70},{"b":2,"o":1,"g":"Hyper","y":89},{"b":2,"o":2,"g":"Hyper","y":93},{"b":2,"o":3,"g":"VU Hyper","y":93},{"b":2,"o":4,"g":"VU Hyper","y":58}]},
   "mark":{"type":"line","color":"#777","strokeWidth":1},
   "encoding":{"y":{"field":"y","type":"quantitative"},"detail":{"field":"b"},"order":{"field":"o"}}},
  {"data":{"values":[{"g":"Hyper","y":77.5,"p":"0.0056"}]},"mark":{"type":"text","fontSize":8.5,"baseline":"bottom","color":"#333"},
   "encoding":{"x":{"field":"g","type":"nominal","bandPosition":0},"y":{"field":"y","type":"quantitative"},"text":{"field":"p"}}},
  {"data":{"values":[{"g":"VU25uM","y":95,"p":"0.0015"}]},"mark":{"type":"text","fontSize":8.5,"baseline":"bottom","color":"#333"},
   "encoding":{"y":{"field":"y","type":"quantitative"},"text":{"field":"p"}}}
 ]},
{"encoding":{"x":{"field":"g","type":"nominal","scale":{"domain":["GSK3β pS9","GSK3β pS389","Total GSK3β"],"range":[24,110],"paddingInner":0.4,"paddingOuter":0.12},"axis":{"orient":"bottom","offset":-178,"title":"+200 mOsm","titleY":-75,"titleBaseline":"alphabetic","titleFontSize":8,"labelAngle":-45,"labelFontSize":6,"labelFontWeight":"normal","domainWidth":1,"tickWidth":1,"tickSize":2}}},
 "layer":[
  {"data":{"values":[{"g":"GSK3β pS9","h":"0 hours","m":1.0,"lo":0.85,"hi":1.17},{"g":"GSK3β pS9","h":"8 hours","m":1.73,"lo":1.6,"hi":1.88},{"g":"GSK3β pS389","h":"0 hours","m":1.0,"lo":0.95,"hi":1.04},{"g":"GSK3β pS389","h":"8 hours","m":1.7,"lo":1.5,"hi":1.92},{"g":"Total GSK3β","h":"0 hours","m":1.03,"lo":0.99,"hi":1.06},{"g":"Total GSK3β","h":"8 hours","m":0.95,"lo":0.9,"hi":1.0}]},
   "encoding":{"xOffset":{"field":"h","type":"nominal","scale":{"domain":["0 hours","8 hours"],"paddingInner":0.2}}},
   "layer":[
    {"mark":"bar","encoding":{"y":{"field":"m","type":"quantitative","scale":{"domain":[0,2],"range":[346,288],"nice":false},"axis":{"orient":"left","offset":-24,"values":[0,0.5,1,1.5,2],"format":".1f","title":"Normalised intensity","labelFontSize":6,"titleFontSize":6,"labelFontWeight":"normal","titleFontWeight":"normal","domainWidth":1,"tickWidth":1,"tickSize":2,"titlePadding":2}},"color":{"field":"h","type":"nominal","scale":{"domain":["0 hours","8 hours"],"range":["#000000","#ff0000"]},"legend":null}}},
    {"mark":{"type":"rule","color":"#000","strokeWidth":1},"encoding":{"y":{"field":"lo","type":"quantitative"},"y2":{"field":"hi"}}},
    {"mark":{"type":"tick","color":"#000","size":4,"thickness":1},"encoding":{"y":{"field":"hi","type":"quantitative"}}},
    {"mark":{"type":"tick","color":"#000","size":4,"thickness":1},"encoding":{"y":{"field":"lo","type":"quantitative"}}}]},
  {"data":{"values":[{"g":"GSK3β pS9","h":"0 hours","v":1.17},{"g":"GSK3β pS9","h":"0 hours","v":0.98},{"g":"GSK3β pS9","h":"0 hours","v":0.85},{"g":"GSK3β pS9","h":"8 hours","v":1.88},{"g":"GSK3β pS9","h":"8 hours","v":1.7},{"g":"GSK3β pS9","h":"8 hours","v":1.6},{"g":"GSK3β pS389","h":"0 hours","v":1.04},{"g":"GSK3β pS389","h":"0 hours","v":1.0},{"g":"GSK3β pS389","h":"0 hours","v":0.96},{"g":"GSK3β pS389","h":"8 hours","v":1.95},{"g":"GSK3β pS389","h":"8 hours","v":1.6},{"g":"GSK3β pS389","h":"8 hours","v":1.55},{"g":"Total GSK3β","h":"0 hours","v":1.06},{"g":"Total GSK3β","h":"0 hours","v":1.03},{"g":"Total GSK3β","h":"0 hours","v":0.99},{"g":"Total GSK3β","h":"8 hours","v":1.0},{"g":"Total GSK3β","h":"8 hours","v":0.95},{"g":"Total GSK3β","h":"8 hours","v":0.9}]},
   "mark":{"type":"point","filled":true,"size":6,"opacity":1},
   "encoding":{"xOffset":{"field":"h","type":"nominal"},"y":{"field":"v","type":"quantitative"},"color":{"field":"h","type":"nominal","legend":null},"shape":{"field":"h","type":"nominal","scale":{"domain":["0 hours","8 hours"],"range":["circle","square"]},"legend":null}}},
  {"data":{"values":[{"b":1,"o":1,"g":"GSK3β pS9","h":"0 hours","y":1.25},{"b":1,"o":2,"g":"GSK3β pS9","h":"0 hours","y":2.23},{"b":1,"o":3,"g":"GSK3β pS9","h":"8 hours","y":2.23},{"b":1,"o":4,"g":"GSK3β pS9","h":"8 hours","y":1.98},{"b":2,"o":1,"g":"GSK3β pS389","h":"0 hours","y":1.12},{"b":2,"o":2,"g":"GSK3β pS389","h":"0 hours","y":2.23},{"b":2,"o":3,"g":"GSK3β pS389","h":"8 hours","y":2.23},{"b":2,"o":4,"g":"GSK3β pS389","h":"8 hours","y":2.0}]},
   "mark":{"type":"line","color":"#555","strokeWidth":0.8},
   "encoding":{"xOffset":{"field":"h","type":"nominal"},"y":{"field":"y","type":"quantitative"},"detail":{"field":"b"},"order":{"field":"o"}}},
  {"data":{"values":[{"g":"GSK3β pS9","y":2.28,"p":"0.010163"},{"g":"GSK3β pS389","y":2.28,"p":"0.010163"}]},"mark":{"type":"text","fontSize":6,"baseline":"bottom","color":"#444"},
   "encoding":{"y":{"field":"y","type":"quantitative"},"text":{"field":"p"}}},
  {"data":{"values":[{"g":"GSK3β pS9","y":2.86,"p":"f"}]},"mark":{"type":"text","fontSize":22,"fontWeight":"bold","align":"left","baseline":"alphabetic","dx":-34},
   "encoding":{"y":{"field":"y","type":"quantitative"},"text":{"field":"p"}}}
 ]},
{"encoding":{"x":{"field":"g","type":"nominal","scale":{"domain":["GSK3β pS9","GSK3β pS389","Total GSK3β"],"range":[123,209],"paddingInner":0.4,"paddingOuter":0.12},"axis":{"orient":"bottom","offset":-178,"title":"Rapamycin +200 mOsm","titleY":-72,"titleBaseline":"alphabetic","titleFontSize":8,"labelAngle":-45,"labelFontSize":6,"labelFontWeight":"normal","domainWidth":1,"tickWidth":1,"tickSize":2}}},
 "layer":[
  {"data":{"values":[{"g":"GSK3β pS9","h":"0 hours","m":1.0,"lo":0.97,"hi":1.03},{"g":"GSK3β pS9","h":"8 hours","m":1.6,"lo":1.45,"hi":1.77},{"g":"GSK3β pS389","h":"0 hours","m":1.04,"lo":1.02,"hi":1.05},{"g":"GSK3β pS389","h":"8 hours","m":1.57,"lo":1.35,"hi":1.8},{"g":"Total GSK3β","h":"0 hours","m":1.0,"lo":0.98,"hi":1.02},{"g":"Total GSK3β","h":"8 hours","m":0.92,"lo":0.87,"hi":0.97}]},
   "encoding":{"xOffset":{"field":"h","type":"nominal","scale":{"domain":["0 hours","8 hours"],"paddingInner":0.2}}},
   "layer":[
    {"mark":"bar","encoding":{"y":{"field":"m","type":"quantitative","scale":{"domain":[0,2],"range":[346,288],"nice":false},"axis":{"orient":"left","offset":-123,"values":[0,0.5,1,1.5,2],"format":".1f","title":"Normalised intensity","labelFontSize":6,"titleFontSize":6,"labelFontWeight":"normal","titleFontWeight":"normal","domainWidth":1,"tickWidth":1,"tickSize":2,"titlePadding":2}},"color":{"field":"h","type":"nominal","scale":{"domain":["0 hours","8 hours"],"range":["#000000","#ff0000"]},"legend":null}}},
    {"mark":{"type":"rule","color":"#000","strokeWidth":1},"encoding":{"y":{"field":"lo","type":"quantitative"},"y2":{"field":"hi"}}},
    {"mark":{"type":"tick","color":"#000","size":4,"thickness":1},"encoding":{"y":{"field":"hi","type":"quantitative"}}},
    {"mark":{"type":"tick","color":"#000","size":4,"thickness":1},"encoding":{"y":{"field":"lo","type":"quantitative"}}}]},
  {"data":{"values":[{"g":"GSK3β pS9","h":"0 hours","v":1.03},{"g":"GSK3β pS9","h":"0 hours","v":1.0},{"g":"GSK3β pS9","h":"0 hours","v":0.97},{"g":"GSK3β pS9","h":"8 hours","v":1.77},{"g":"GSK3β pS9","h":"8 hours","v":1.6},{"g":"GSK3β pS9","h":"8 hours","v":1.45},{"g":"GSK3β pS389","h":"0 hours","v":1.05},{"g":"GSK3β pS389","h":"0 hours","v":1.04},{"g":"GSK3β pS389","h":"0 hours","v":1.02},{"g":"GSK3β pS389","h":"8 hours","v":1.8},{"g":"GSK3β pS389","h":"8 hours","v":1.57},{"g":"GSK3β pS389","h":"8 hours","v":1.35},{"g":"Total GSK3β","h":"0 hours","v":1.02},{"g":"Total GSK3β","h":"0 hours","v":1.0},{"g":"Total GSK3β","h":"0 hours","v":0.98},{"g":"Total GSK3β","h":"8 hours","v":0.97},{"g":"Total GSK3β","h":"8 hours","v":0.92},{"g":"Total GSK3β","h":"8 hours","v":0.87}]},
   "mark":{"type":"point","filled":true,"size":6,"opacity":1},
   "encoding":{"xOffset":{"field":"h","type":"nominal"},"y":{"field":"v","type":"quantitative"},"color":{"field":"h","type":"nominal","legend":null},"shape":{"field":"h","type":"nominal","scale":{"domain":["0 hours","8 hours"],"range":["circle","square"]},"legend":null}}},
  {"data":{"values":[{"b":1,"o":1,"g":"GSK3β pS9","h":"0 hours","y":1.12},{"b":1,"o":2,"g":"GSK3β pS9","h":"0 hours","y":2.06},{"b":1,"o":3,"g":"GSK3β pS9","h":"8 hours","y":2.06},{"b":1,"o":4,"g":"GSK3β pS9","h":"8 hours","y":1.88},{"b":2,"o":1,"g":"GSK3β pS389","h":"0 hours","y":1.12},{"b":2,"o":2,"g":"GSK3β pS389","h":"0 hours","y":2.06},{"b":2,"o":3,"g":"GSK3β pS389","h":"8 hours","y":2.06},{"b":2,"o":4,"g":"GSK3β pS389","h":"8 hours","y":1.9}]},
   "mark":{"type":"line","color":"#555","strokeWidth":0.8},
   "encoding":{"xOffset":{"field":"h","type":"nominal"},"y":{"field":"y","type":"quantitative"},"detail":{"field":"b"},"order":{"field":"o"}}},
  {"data":{"values":[{"g":"GSK3β pS9","y":2.11,"p":"0.019438"},{"g":"GSK3β pS389","y":2.11,"p":"0.023380"}]},"mark":{"type":"text","fontSize":6,"baseline":"bottom","color":"#444"},
   "encoding":{"y":{"field":"y","type":"quantitative"},"text":{"field":"p"}}}
 ]},
{"encoding":{"x":{"field":"g","type":"nominal","scale":{"domain":["GSK3β pS9","GSK3β pS389","Total GSK3β"],"range":[238,328],"paddingInner":0.4,"paddingOuter":0.12},"axis":{"orient":"bottom","offset":-178,"title":"Torin1 +200 mOsm","titleY":-62,"titleBaseline":"alphabetic","titleFontSize":8,"labelAngle":-45,"labelFontSize":6,"labelFontWeight":"normal","domainWidth":1,"tickWidth":1,"tickSize":2}}},
 "layer":[
  {"data":{"values":[{"g":"GSK3β pS9","h":"0 hours","m":1.0,"lo":0.97,"hi":1.03},{"g":"GSK3β pS9","h":"8 hours","m":0.32,"lo":0.31,"hi":0.33},{"g":"GSK3β pS389","h":"0 hours","m":1.02,"lo":0.97,"hi":1.07},{"g":"GSK3β pS389","h":"8 hours","m":0.6,"lo":0.55,"hi":0.65},{"g":"Total GSK3β","h":"0 hours","m":1.02,"lo":0.97,"hi":1.07},{"g":"Total GSK3β","h":"8 hours","m":0.84,"lo":0.78,"hi":0.9}]},
   "encoding":{"xOffset":{"field":"h","type":"nominal","scale":{"domain":["0 hours","8 hours"],"paddingInner":0.2}}},
   "layer":[
    {"mark":"bar","encoding":{"y":{"field":"m","type":"quantitative","scale":{"domain":[0,2],"range":[346,287],"nice":false},"axis":{"orient":"left","offset":-238,"values":[0,0.5,1,1.5,2],"format":".1f","title":"Normalised intensity","labelFontSize":6,"titleFontSize":6,"labelFontWeight":"normal","titleFontWeight":"normal","domainWidth":1,"tickWidth":1,"tickSize":2,"titlePadding":2}},"color":{"field":"h","type":"nominal","scale":{"domain":["0 hours","8 hours"],"range":["#000000","#ff0000"]},"legend":null}}},
    {"mark":{"type":"rule","color":"#000","strokeWidth":1},"encoding":{"y":{"field":"lo","type":"quantitative"},"y2":{"field":"hi"}}},
    {"mark":{"type":"tick","color":"#000","size":4,"thickness":1},"encoding":{"y":{"field":"hi","type":"quantitative"}}},
    {"mark":{"type":"tick","color":"#000","size":4,"thickness":1},"encoding":{"y":{"field":"lo","type":"quantitative"}}}]},
  {"data":{"values":[{"g":"GSK3β pS9","h":"0 hours","v":1.03},{"g":"GSK3β pS9","h":"0 hours","v":1.0},{"g":"GSK3β pS9","h":"0 hours","v":0.97},{"g":"GSK3β pS9","h":"8 hours","v":0.33},{"g":"GSK3β pS9","h":"8 hours","v":0.32},{"g":"GSK3β pS9","h":"8 hours","v":0.31},{"g":"GSK3β pS389","h":"0 hours","v":1.07},{"g":"GSK3β pS389","h":"0 hours","v":1.0},{"g":"GSK3β pS389","h":"0 hours","v":0.97},{"g":"GSK3β pS389","h":"8 hours","v":0.65},{"g":"GSK3β pS389","h":"8 hours","v":0.6},{"g":"GSK3β pS389","h":"8 hours","v":0.55},{"g":"Total GSK3β","h":"0 hours","v":1.07},{"g":"Total GSK3β","h":"0 hours","v":1.02},{"g":"Total GSK3β","h":"0 hours","v":0.97},{"g":"Total GSK3β","h":"8 hours","v":0.9},{"g":"Total GSK3β","h":"8 hours","v":0.84},{"g":"Total GSK3β","h":"8 hours","v":0.78}]},
   "mark":{"type":"point","filled":true,"size":6,"opacity":1},
   "encoding":{"xOffset":{"field":"h","type":"nominal"},"y":{"field":"v","type":"quantitative"},"color":{"field":"h","type":"nominal","legend":null},"shape":{"field":"h","type":"nominal","scale":{"domain":["0 hours","8 hours"],"range":["circle","square"]},"legend":null}}},
  {"data":{"values":[{"b":1,"o":1,"g":"GSK3β pS9","h":"0 hours","y":1.12},{"b":1,"o":2,"g":"GSK3β pS9","h":"0 hours","y":1.65},{"b":1,"o":3,"g":"GSK3β pS9","h":"8 hours","y":1.65},{"b":1,"o":4,"g":"GSK3β pS9","h":"8 hours","y":0.45},{"b":2,"o":1,"g":"GSK3β pS389","h":"0 hours","y":1.15},{"b":2,"o":2,"g":"GSK3β pS389","h":"0 hours","y":1.65},{"b":2,"o":3,"g":"GSK3β pS389","h":"8 hours","y":1.65},{"b":2,"o":4,"g":"GSK3β pS389","h":"8 hours","y":0.75},{"b":3,"o":1,"g":"Total GSK3β","h":"0 hours","y":1.15},{"b":3,"o":2,"g":"Total GSK3β","h":"0 hours","y":1.65},{"b":3,"o":3,"g":"Total GSK3β","h":"8 hours","y":1.65},{"b":3,"o":4,"g":"Total GSK3β","h":"8 hours","y":1.0}]},
   "mark":{"type":"line","color":"#555","strokeWidth":0.8},
   "encoding":{"xOffset":{"field":"h","type":"nominal"},"y":{"field":"y","type":"quantitative"},"detail":{"field":"b"},"order":{"field":"o"}}},
  {"data":{"values":[{"g":"GSK3β pS9","y":1.7,"p":"0.000009"},{"g":"GSK3β pS389","y":1.7,"p":"0.000395"},{"g":"Total GSK3β","y":1.7,"p":"0.023901"}]},"mark":{"type":"text","fontSize":6,"baseline":"bottom","color":"#444"},
   "encoding":{"y":{"field":"y","type":"quantitative"},"text":{"field":"p"}}}
 ]},
{"encoding":{"x":{"field":"g","type":"nominal","scale":{"domain":["GSK3β pS9","GSK3β pS389","Total GSK3β"],"range":[363,443],"paddingInner":0.4,"paddingOuter":0.12},"axis":{"orient":"bottom","offset":-178,"title":"AKT inh +200 mOsm","titleY":-62,"titleBaseline":"alphabetic","titleFontSize":8,"labelAngle":-45,"labelFontSize":6,"labelFontWeight":"normal","domainWidth":1,"tickWidth":1,"tickSize":2}}},
 "layer":[
  {"data":{"values":[{"g":"GSK3β pS9","h":"0 hours","m":1.0,"lo":0.88,"hi":1.13},{"g":"GSK3β pS9","h":"8 hours","m":0.45,"lo":0.37,"hi":0.55},{"g":"GSK3β pS389","h":"0 hours","m":1.01,"lo":0.99,"hi":1.03},{"g":"GSK3β pS389","h":"8 hours","m":0.65,"lo":0.55,"hi":0.76},{"g":"Total GSK3β","h":"0 hours","m":1.03,"lo":1.01,"hi":1.04},{"g":"Total GSK3β","h":"8 hours","m":0.95,"lo":0.88,"hi":1.0}]},
   "encoding":{"xOffset":{"field":"h","type":"nominal","scale":{"domain":["0 hours","8 hours"],"paddingInner":0.2}}},
   "layer":[
    {"mark":"bar","encoding":{"y":{"field":"m","type":"quantitative","scale":{"domain":[0,2],"range":[346,288],"nice":false},"axis":{"orient":"left","offset":-363,"values":[0,0.5,1,1.5,2],"format":".1f","title":"Normalised intensity","labelFontSize":6,"titleFontSize":6,"labelFontWeight":"normal","titleFontWeight":"normal","domainWidth":1,"tickWidth":1,"tickSize":2,"titlePadding":2}},"color":{"field":"h","type":"nominal","scale":{"domain":["0 hours","8 hours"],"range":["#000000","#ff0000"]},"legend":{"title":null,"legendX":432,"legendY":286,"symbolStrokeWidth":0,"symbolSize":30,"labelFontSize":9.5,"rowPadding":3,"labelOffset":6}}}},
    {"mark":{"type":"rule","color":"#000","strokeWidth":1},"encoding":{"y":{"field":"lo","type":"quantitative"},"y2":{"field":"hi"}}},
    {"mark":{"type":"tick","color":"#000","size":4,"thickness":1},"encoding":{"y":{"field":"hi","type":"quantitative"}}},
    {"mark":{"type":"tick","color":"#000","size":4,"thickness":1},"encoding":{"y":{"field":"lo","type":"quantitative"}}}]},
  {"data":{"values":[{"g":"GSK3β pS9","h":"0 hours","v":1.13},{"g":"GSK3β pS9","h":"0 hours","v":1.0},{"g":"GSK3β pS9","h":"0 hours","v":0.88},{"g":"GSK3β pS9","h":"8 hours","v":0.55},{"g":"GSK3β pS9","h":"8 hours","v":0.45},{"g":"GSK3β pS9","h":"8 hours","v":0.37},{"g":"GSK3β pS389","h":"0 hours","v":1.03},{"g":"GSK3β pS389","h":"0 hours","v":1.01},{"g":"GSK3β pS389","h":"0 hours","v":0.99},{"g":"GSK3β pS389","h":"8 hours","v":0.76},{"g":"GSK3β pS389","h":"8 hours","v":0.65},{"g":"GSK3β pS389","h":"8 hours","v":0.55},{"g":"Total GSK3β","h":"0 hours","v":1.04},{"g":"Total GSK3β","h":"0 hours","v":1.03},{"g":"Total GSK3β","h":"0 hours","v":1.01},{"g":"Total GSK3β","h":"8 hours","v":1.0},{"g":"Total GSK3β","h":"8 hours","v":0.95},{"g":"Total GSK3β","h":"8 hours","v":0.88}]},
   "mark":{"type":"point","filled":true,"size":6,"opacity":1},
   "encoding":{"xOffset":{"field":"h","type":"nominal"},"y":{"field":"v","type":"quantitative"},"color":{"field":"h","type":"nominal","legend":{"title":null,"legendX":432,"legendY":286,"symbolStrokeWidth":0,"symbolSize":30,"labelFontSize":9.5,"rowPadding":3,"labelOffset":6}},"shape":{"field":"h","type":"nominal","scale":{"domain":["0 hours","8 hours"],"range":["circle","square"]},"legend":{"title":null,"legendX":432,"legendY":286,"symbolStrokeWidth":0,"symbolSize":30,"labelFontSize":9.5,"rowPadding":3,"labelOffset":6}}}},
  {"data":{"values":[{"b":1,"o":1,"g":"GSK3β pS9","h":"0 hours","y":1.2},{"b":1,"o":2,"g":"GSK3β pS9","h":"0 hours","y":1.44},{"b":1,"o":3,"g":"GSK3β pS9","h":"8 hours","y":1.44},{"b":1,"o":4,"g":"GSK3β pS9","h":"8 hours","y":0.65},{"b":2,"o":1,"g":"GSK3β pS389","h":"0 hours","y":1.1},{"b":2,"o":2,"g":"GSK3β pS389","h":"0 hours","y":1.44},{"b":2,"o":3,"g":"GSK3β pS389","h":"8 hours","y":1.44},{"b":2,"o":4,"g":"GSK3β pS389","h":"8 hours","y":0.85}]},
   "mark":{"type":"line","color":"#555","strokeWidth":0.8},
   "encoding":{"xOffset":{"field":"h","type":"nominal"},"y":{"field":"y","type":"quantitative"},"detail":{"field":"b"},"order":{"field":"o"}}},
  {"data":{"values":[{"g":"GSK3β pS9","y":1.49,"p":"0.002455"},{"g":"GSK3β pS389","y":1.49,"p":"0.002455"}]},"mark":{"type":"text","fontSize":6,"baseline":"bottom","color":"#444"},
   "encoding":{"y":{"field":"y","type":"quantitative"},"text":{"field":"p"}}}
 ]},
{"layer":[
 {"data":{"values":[
{"s":"Ctrl","t":0,"v":95},{"s":"Ctrl","t":0.12,"v":105},{"s":"Ctrl","t":0.25,"v":98},{"s":"Ctrl","t":0.7,"v":30},{"s":"Ctrl","t":1.2,"v":82},{"s":"Ctrl","t":1.3,"v":88},{"s":"Ctrl","t":1.75,"v":32},{"s":"Ctrl","t":2.25,"v":62},{"s":"Ctrl","t":2.75,"v":35},{"s":"Ctrl","t":3.3,"v":50},{"s":"Ctrl","t":3.8,"v":33},{"s":"Ctrl","t":4.35,"v":45},{"s":"Ctrl","t":4.8,"v":35},{"s":"Ctrl","t":5,"v":37},
{"s":"Inh Ctrl","t":0,"v":105},{"s":"Inh Ctrl","t":0.15,"v":108},{"s":"Inh Ctrl","t":0.7,"v":28},{"s":"Inh Ctrl","t":1.18,"v":85},{"s":"Inh Ctrl","t":1.25,"v":148},{"s":"Inh Ctrl","t":1.32,"v":90},{"s":"Inh Ctrl","t":1.75,"v":32},{"s":"Inh Ctrl","t":2.25,"v":70},{"s":"Inh Ctrl","t":2.75,"v":33},{"s":"Inh Ctrl","t":3.3,"v":53},{"s":"Inh Ctrl","t":3.8,"v":33},{"s":"Inh Ctrl","t":4.35,"v":47},{"s":"Inh Ctrl","t":4.8,"v":33},{"s":"Inh Ctrl","t":5,"v":35},
{"s":"Load","t":0,"v":140},{"s":"Load","t":0.08,"v":118},{"s":"Load","t":0.2,"v":115},{"s":"Load","t":0.7,"v":30},{"s":"Load","t":1.15,"v":95},{"s":"Load","t":1.3,"v":110},{"s":"Load","t":1.75,"v":35},{"s":"Load","t":2.25,"v":92},{"s":"Load","t":2.8,"v":38},{"s":"Load","t":3.35,"v":67},{"s":"Load","t":3.85,"v":37},{"s":"Load","t":4.4,"v":57},{"s":"Load","t":4.85,"v":38},{"s":"Load","t":5,"v":40},
{"s":"Inh Load","t":0,"v":112},{"s":"Inh Load","t":0.15,"v":105},{"s":"Inh Load","t":0.7,"v":27},{"s":"Inh Load","t":1.12,"v":80},{"s":"Inh Load","t":1.2,"v":20},{"s":"Inh Load","t":1.3,"v":110},{"s":"Inh Load","t":1.75,"v":33},{"s":"Inh Load","t":2.25,"v":78},{"s":"Inh Load","t":2.8,"v":35},{"s":"Inh Load","t":3.35,"v":58},{"s":"Inh Load","t":3.85,"v":35},{"s":"Inh Load","t":4.4,"v":50},{"s":"Inh Load","t":4.85,"v":35},{"s":"Inh Load","t":5,"v":37}]},
  "mark":{"type":"line","strokeWidth":3,"interpolate":"monotone"},
  "encoding":{
   "x":{"field":"t","type":"quantitative","scale":{"domain":[0,5],"range":[508,585],"nice":false,"zero":false},"axis":{"orient":"bottom","offset":-137,"values":[0,1,2,3,4,5],"format":"d","title":"Days","labelFontSize":9,"titleFontSize":9}},
   "y":{"field":"v","type":"quantitative","scale":{"domain":[0,150],"range":[387,311],"nice":false},"axis":{"orient":"left","offset":-508,"values":[0,50,100,150],"format":"d","title":"Bioluminescence","labelFontSize":9,"titleFontSize":10}},
   "color":{"field":"s","type":"nominal","scale":{"domain":["Ctrl","Inh Ctrl","Load","Inh Load"],"range":["#000000","#0000ff","#ff0000","#9933ff"]},"legend":{"title":null,"legendX":545,"legendY":309,"labelFontSize":9,"symbolSize":64}}}},
 {"data":{"values":[{"t":2.14,"v":175.6,"lab":"PLD2 inhibitor"}]},"mark":{"type":"text","fontWeight":"bold","fontSize":9.5,"baseline":"alphabetic"},"encoding":{"x":{"field":"t","type":"quantitative"},"y":{"field":"v","type":"quantitative"},"text":{"field":"lab"}}},
 {"data":{"values":[{"t":4.03,"v":197.3,"lab":"Mechanical loading"}]},"mark":{"type":"text","font":"Lato","fontWeight":"bold","fontSize":11,"baseline":"alphabetic"},"encoding":{"x":{"field":"t","type":"quantitative"},"y":{"field":"v","type":"quantitative"},"text":{"field":"lab"}}},
 {"data":{"values":[{"t":-1.43,"v":191.4,"lab":"j"}]},"mark":{"type":"text","fontWeight":"bold","fontSize":22,"align":"left","baseline":"alphabetic"},"encoding":{"x":{"field":"t","type":"quantitative"},"y":{"field":"v","type":"quantitative"},"text":{"field":"lab"}}}
]},
{"encoding":{"x":{"field":"g","type":"nominal","scale":{"domain":["Ctrl","Load","Inh Ctrl","Inh Load"],"range":[617,668],"paddingInner":0.2,"paddingOuter":0.1},"axis":{"orient":"bottom","offset":-137,"title":null,"labelAngle":-45,"labelFontSize":9.5}}},
 "layer":[
  {"data":{"values":[{"g":"Ctrl","m":43.5,"lo":39,"hi":47.5},{"g":"Load","m":69.5,"lo":63,"hi":76},{"g":"Inh Ctrl","m":40,"lo":34,"hi":47},{"g":"Inh Load","m":55.5,"lo":50,"hi":61}]},
   "layer":[
    {"mark":"bar","encoding":{"y":{"field":"m","type":"quantitative","scale":{"domain":[0,100],"range":[387,309],"nice":false},"axis":{"orient":"left","offset":-617,"values":[0,20,40,60,80,100],"title":"Relative amplitude, %","labelFontSize":9.5,"titleFontSize":9.5}},"color":{"field":"g","type":"nominal","scale":{"domain":["Ctrl","Load","Inh Ctrl","Inh Load"],"range":["#000000","#ff0000","#0000ff","#9933ff"]},"legend":null}}},
    {"mark":{"type":"rule","color":"#000","strokeWidth":1.2},"encoding":{"y":{"field":"lo","type":"quantitative"},"y2":{"field":"hi"}}},
    {"mark":{"type":"tick","color":"#000","size":5,"thickness":1.2},"encoding":{"y":{"field":"hi","type":"quantitative"}}},
    {"mark":{"type":"tick","color":"#000","size":5,"thickness":1.2},"encoding":{"y":{"field":"lo","type":"quantitative"}}}]},
  {"data":{"values":[{"g":"Ctrl","v":48,"r":1},{"g":"Ctrl","v":44,"r":2},{"g":"Ctrl","v":40,"r":3},{"g":"Load","v":76,"r":1},{"g":"Load","v":68,"r":2},{"g":"Load","v":65,"r":3},{"g":"Inh Ctrl","v":47,"r":2},{"g":"Inh Ctrl","v":38,"r":1},{"g":"Inh Ctrl","v":35,"r":3},{"g":"Inh Load","v":61,"r":1},{"g":"Inh Load","v":54,"r":2},{"g":"Inh Load","v":53,"r":3}]},
   "mark":{"type":"point","filled":false,"color":"#000","size":12,"strokeWidth":1},
   "encoding":{"y":{"field":"v","type":"quantitative"},"shape":{"field":"r","type":"nominal","scale":{"domain":[1,2,3],"range":["circle","square","triangle-up"]},"legend":null}}},
  {"data":{"values":[{"b":1,"o":1,"g":"Ctrl","y":52},{"b":1,"o":2,"g":"Ctrl","y":93},{"b":1,"o":3,"g":"Load","y":93},{"b":1,"o":4,"g":"Load","y":82},{"b":2,"o":1,"g":"Load","y":104},{"b":2,"o":2,"g":"Load","y":112},{"b":2,"o":3,"g":"Inh Load","y":112},{"b":2,"o":4,"g":"Inh Load","y":66}]},
   "mark":{"type":"line","color":"#777","strokeWidth":1},
   "encoding":{"y":{"field":"y","type":"quantitative"},"detail":{"field":"b"},"order":{"field":"o"}}},
  {"data":{"values":[{"g":"Load","y":94.5,"p":"0.0015"}]},"mark":{"type":"text","fontSize":9,"baseline":"bottom","color":"#333"},
   "encoding":{"x":{"field":"g","type":"nominal","bandPosition":0},"y":{"field":"y","type":"quantitative"},"text":{"field":"p"}}},
  {"data":{"values":[{"g":"Inh Ctrl","y":114,"p":"0.0407"}]},"mark":{"type":"text","fontSize":9,"baseline":"bottom","color":"#333"},
   "encoding":{"y":{"field":"y","type":"quantitative"},"text":{"field":"p"}}}
 ]},
{"layer":[
 {"data":{"values":[
{"s":"Ctrl","t":0,"v":160},{"s":"Ctrl","t":0.15,"v":158},{"s":"Ctrl","t":0.7,"v":20},{"s":"Ctrl","t":1.15,"v":95},{"s":"Ctrl","t":1.3,"v":85},{"s":"Ctrl","t":1.38,"v":10},{"s":"Ctrl","t":1.5,"v":60},{"s":"Ctrl","t":1.8,"v":28},{"s":"Ctrl","t":2.25,"v":60},{"s":"Ctrl","t":2.75,"v":35},{"s":"Ctrl","t":3.3,"v":42},{"s":"Ctrl","t":3.8,"v":32},{"s":"Ctrl","t":4.3,"v":33},{"s":"Ctrl","t":4.8,"v":28},{"s":"Ctrl","t":5,"v":28},
{"s":"Loading Ctrl","t":0,"v":160},{"s":"Loading Ctrl","t":0.15,"v":158},{"s":"Loading Ctrl","t":0.7,"v":28},{"s":"Loading Ctrl","t":1.15,"v":118},{"s":"Loading Ctrl","t":1.35,"v":120},{"s":"Loading Ctrl","t":1.75,"v":32},{"s":"Loading Ctrl","t":2.25,"v":90},{"s":"Loading Ctrl","t":2.8,"v":38},{"s":"Loading Ctrl","t":3.35,"v":68},{"s":"Loading Ctrl","t":3.85,"v":36},{"s":"Loading Ctrl","t":4.4,"v":55},{"s":"Loading Ctrl","t":4.85,"v":36},{"s":"Loading Ctrl","t":5,"v":36},
{"s":"Torin1","t":0,"v":160},{"s":"Torin1","t":0.15,"v":158},{"s":"Torin1","t":0.72,"v":25},{"s":"Torin1","t":1.15,"v":148},{"s":"Torin1","t":1.35,"v":40},{"s":"Torin1","t":1.42,"v":10},{"s":"Torin1","t":1.55,"v":45},{"s":"Torin1","t":1.8,"v":30},{"s":"Torin1","t":2.25,"v":48},{"s":"Torin1","t":2.75,"v":30},{"s":"Torin1","t":3.3,"v":36},{"s":"Torin1","t":3.8,"v":27},{"s":"Torin1","t":4.3,"v":30},{"s":"Torin1","t":4.8,"v":25},{"s":"Torin1","t":5,"v":25},
{"s":"Load Torin1","t":0,"v":160},{"s":"Load Torin1","t":0.15,"v":158},{"s":"Load Torin1","t":0.7,"v":28},{"s":"Load Torin1","t":1.15,"v":158},{"s":"Load Torin1","t":1.4,"v":60},{"s":"Load Torin1","t":1.7,"v":30},{"s":"Load Torin1","t":2.3,"v":50},{"s":"Load Torin1","t":2.8,"v":32},{"s":"Load Torin1","t":3.35,"v":37},{"s":"Load Torin1","t":3.85,"v":30},{"s":"Load Torin1","t":4.35,"v":33},{"s":"Load Torin1","t":4.85,"v":29},{"s":"Load Torin1","t":5,"v":29}]},
  "mark":{"type":"line","strokeWidth":3,"interpolate":"monotone"},
  "encoding":{
   "x":{"field":"t","type":"quantitative","scale":{"domain":[0,5],"range":[34,112],"nice":false,"zero":false},"axis":{"orient":"bottom","offset":-38,"values":[0,1,2,3,4,5],"format":"d","title":"Days","labelFontSize":9,"titleFontSize":9}},
   "y":{"field":"v","type":"quantitative","scale":{"domain":[0,160],"range":[486,408],"nice":false},"axis":{"orient":"left","offset":-34,"values":[0,40,80,120,160],"format":"d","title":"Bioluminescence","labelFontSize":9,"titleFontSize":10}},
   "color":{"field":"s","type":"nominal","scale":{"domain":["Ctrl","Loading Ctrl","Torin1","Load Torin1"],"range":["#000000","#ff0000","#0000ff","#9933ff"]},"legend":{"title":null,"legendX":63,"legendY":404,"labelFontSize":9,"symbolSize":81}}}},
 {"data":{"values":[{"t":2.5,"v":176.4,"lab":"Torin1"}]},"mark":{"type":"text","fontWeight":"bold","fontSize":9.5,"baseline":"alphabetic"},"encoding":{"x":{"field":"t","type":"quantitative"},"y":{"field":"v","type":"quantitative"},"text":{"field":"lab"}}},
 {"data":{"values":[{"t":3.97,"v":196.9,"lab":"Mechanical loading"}]},"mark":{"type":"text","font":"Lato","fontWeight":"bold","fontSize":11,"baseline":"alphabetic"},"encoding":{"x":{"field":"t","type":"quantitative"},"y":{"field":"v","type":"quantitative"},"text":{"field":"lab"}}},
 {"data":{"values":[{"t":-1.99,"v":192.8,"lab":"g"}]},"mark":{"type":"text","fontWeight":"bold","fontSize":22,"align":"left","baseline":"alphabetic"},"encoding":{"x":{"field":"t","type":"quantitative"},"y":{"field":"v","type":"quantitative"},"text":{"field":"lab"}}}
]},
{"encoding":{"x":{"field":"g","type":"nominal","scale":{"domain":["Ctrl","Loading Ctrl","Torin1","Load Torin1"],"range":[148,197],"paddingInner":0.2,"paddingOuter":0.1},"axis":{"orient":"bottom","offset":-46,"title":null,"labelAngle":-45,"labelFontSize":7.5}}},
 "layer":[
  {"data":{"values":[{"g":"Ctrl","m":39,"lo":33,"hi":46},{"g":"Loading Ctrl","m":61.5,"lo":54.5,"hi":68},{"g":"Torin1","m":21,"lo":16,"hi":27},{"g":"Load Torin1","m":18.5,"lo":15.5,"hi":22}]},
   "layer":[
    {"mark":"bar","encoding":{"y":{"field":"m","type":"quantitative","scale":{"domain":[0,80],"range":[478,407],"nice":false},"axis":{"orient":"left","offset":-148,"values":[0,20,40,60,80],"title":"Relative amplitude, %","labelFontSize":8.5,"titleFontSize":8.5}},"color":{"field":"g","type":"nominal","scale":{"domain":["Ctrl","Loading Ctrl","Torin1","Load Torin1"],"range":["#000000","#ff0000","#0000ff","#9933ff"]},"legend":null}}},
    {"mark":{"type":"rule","color":"#000","strokeWidth":1.2},"encoding":{"y":{"field":"lo","type":"quantitative"},"y2":{"field":"hi"}}},
    {"mark":{"type":"tick","color":"#000","size":5,"thickness":1.2},"encoding":{"y":{"field":"hi","type":"quantitative"}}},
    {"mark":{"type":"tick","color":"#000","size":5,"thickness":1.2},"encoding":{"y":{"field":"lo","type":"quantitative"}}}]},
  {"data":{"values":[{"g":"Ctrl","v":48,"r":1},{"g":"Ctrl","v":38,"r":2},{"g":"Ctrl","v":32,"r":3},{"g":"Loading Ctrl","v":68,"r":2},{"g":"Loading Ctrl","v":62,"r":3},{"g":"Loading Ctrl","v":54,"r":1},{"g":"Torin1","v":27,"r":2},{"g":"Torin1","v":21,"r":3},{"g":"Torin1","v":16,"r":1},{"g":"Load Torin1","v":21,"r":1},{"g":"Load Torin1","v":19,"r":3},{"g":"Load Torin1","v":16,"r":2}]},
   "mark":{"type":"point","filled":false,"color":"#000","size":12,"strokeWidth":1},
   "encoding":{"y":{"field":"v","type":"quantitative"},"shape":{"field":"r","type":"nominal","scale":{"domain":[1,2,3],"range":["circle","square","triangle-up"]},"legend":null}}},
  {"data":{"values":[{"b":1,"o":1,"g":"Ctrl","y":54},{"b":1,"o":2,"g":"Ctrl","y":80},{"b":1,"o":3,"g":"Loading Ctrl","y":80},{"b":1,"o":4,"g":"Loading Ctrl","y":74},{"b":2,"o":1,"g":"Loading Ctrl","y":93},{"b":2,"o":2,"g":"Loading Ctrl","y":98.5},{"b":2,"o":3,"g":"Load Torin1","y":98.5},{"b":2,"o":4,"g":"Load Torin1","y":24}]},
   "mark":{"type":"line","color":"#777","strokeWidth":1},
   "encoding":{"y":{"field":"y","type":"quantitative"},"detail":{"field":"b"},"order":{"field":"o"}}},
  {"data":{"values":[{"g":"Loading Ctrl","y":82,"p":"0.0026"}]},"mark":{"type":"text","fontSize":8,"baseline":"bottom","color":"#333"},
   "encoding":{"x":{"field":"g","type":"nominal","bandPosition":0},"y":{"field":"y","type":"quantitative"},"text":{"field":"p"}}},
  {"data":{"values":[{"g":"Torin1","y":100.5,"p":"<0.0001"}]},"mark":{"type":"text","fontSize":8,"baseline":"bottom","color":"#333"},
   "encoding":{"y":{"field":"y","type":"quantitative"},"text":{"field":"p"}}}
 ]},
{"layer":[
 {"data":{"values":[
{"s":"Ctrl","t":0,"v":160},{"s":"Ctrl","t":0.15,"v":158},{"s":"Ctrl","t":0.7,"v":20},{"s":"Ctrl","t":1.15,"v":98},{"s":"Ctrl","t":1.3,"v":85},{"s":"Ctrl","t":1.38,"v":10},{"s":"Ctrl","t":1.5,"v":60},{"s":"Ctrl","t":1.8,"v":35},{"s":"Ctrl","t":2.25,"v":58},{"s":"Ctrl","t":2.75,"v":35},{"s":"Ctrl","t":3.3,"v":45},{"s":"Ctrl","t":3.8,"v":32},{"s":"Ctrl","t":4.3,"v":35},{"s":"Ctrl","t":4.8,"v":30},{"s":"Ctrl","t":5,"v":30},
{"s":"Loading Ctrl","t":0,"v":160},{"s":"Loading Ctrl","t":0.15,"v":158},{"s":"Loading Ctrl","t":0.7,"v":30},{"s":"Loading Ctrl","t":1.15,"v":120},{"s":"Loading Ctrl","t":1.3,"v":122},{"s":"Loading Ctrl","t":1.75,"v":35},{"s":"Loading Ctrl","t":2.25,"v":90},{"s":"Loading Ctrl","t":2.75,"v":40},{"s":"Loading Ctrl","t":3.35,"v":68},{"s":"Loading Ctrl","t":3.85,"v":38},{"s":"Loading Ctrl","t":4.4,"v":55},{"s":"Loading Ctrl","t":4.85,"v":37},{"s":"Loading Ctrl","t":5,"v":37},
{"s":"AKT inh","t":0,"v":160},{"s":"AKT inh","t":0.15,"v":158},{"s":"AKT inh","t":0.7,"v":25},{"s":"AKT inh","t":1.1,"v":140},{"s":"AKT inh","t":1.3,"v":40},{"s":"AKT inh","t":1.36,"v":10},{"s":"AKT inh","t":1.5,"v":50},{"s":"AKT inh","t":1.75,"v":32},{"s":"AKT inh","t":2.3,"v":45},{"s":"AKT inh","t":2.8,"v":32},{"s":"AKT inh","t":3.3,"v":42},{"s":"AKT inh","t":3.85,"v":30},{"s":"AKT inh","t":4.35,"v":32},{"s":"AKT inh","t":4.85,"v":28},{"s":"AKT inh","t":5,"v":28},
{"s":"Load AKT","t":0,"v":160},{"s":"Load AKT","t":0.15,"v":158},{"s":"Load AKT","t":0.7,"v":27},{"s":"Load AKT","t":1.1,"v":140},{"s":"Load AKT","t":1.3,"v":100},{"s":"Load AKT","t":1.75,"v":33},{"s":"Load AKT","t":2.3,"v":70},{"s":"Load AKT","t":2.8,"v":36},{"s":"Load AKT","t":3.35,"v":62},{"s":"Load AKT","t":3.85,"v":38},{"s":"Load AKT","t":4.4,"v":52},{"s":"Load AKT","t":4.85,"v":36},{"s":"Load AKT","t":5,"v":36}]},
  "mark":{"type":"line","strokeWidth":3,"interpolate":"monotone"},
  "encoding":{
   "x":{"field":"t","type":"quantitative","scale":{"domain":[0,5],"range":[252,330],"nice":false,"zero":false},"axis":{"orient":"bottom","offset":-37,"values":[0,1,2,3,4,5],"format":"d","title":"Days","labelFontSize":9,"titleFontSize":8}},
   "y":{"field":"v","type":"quantitative","scale":{"domain":[0,160],"range":[487,408],"nice":false},"axis":{"orient":"left","offset":-252,"values":[0,40,80,120,160],"format":"d","title":"Bioluminescence","labelFontSize":9,"titleFontSize":10}},
   "color":{"field":"s","type":"nominal","scale":{"domain":["Ctrl","Loading Ctrl","AKT inh","Load AKT"],"range":["#000000","#ff0000","#0000ff","#9933ff"]},"legend":{"title":null,"legendX":283,"legendY":407,"labelFontSize":9,"symbolSize":81}}}},
 {"data":{"values":[{"t":2.56,"v":172.1,"lab":"AKT inhibitor"}]},"mark":{"type":"text","fontWeight":"bold","fontSize":9.5,"baseline":"alphabetic"},"encoding":{"x":{"field":"t","type":"quantitative"},"y":{"field":"v","type":"quantitative"},"text":{"field":"lab"}}},
 {"data":{"values":[{"t":4.81,"v":194.4,"lab":"Mechanical loading"}]},"mark":{"type":"text","font":"Lato","fontWeight":"bold","fontSize":11,"baseline":"alphabetic"},"encoding":{"x":{"field":"t","type":"quantitative"},"y":{"field":"v","type":"quantitative"},"text":{"field":"lab"}}},
 {"data":{"values":[{"t":-2.5,"v":186.3,"lab":"h"}]},"mark":{"type":"text","fontWeight":"bold","fontSize":22,"align":"left","baseline":"alphabetic"},"encoding":{"x":{"field":"t","type":"quantitative"},"y":{"field":"v","type":"quantitative"},"text":{"field":"lab"}}}
]},
{"encoding":{"x":{"field":"g","type":"nominal","scale":{"domain":["Ctrl","Loading Ctrl","AKT inh","Load AKT"],"range":[367,415],"paddingInner":0.2,"paddingOuter":0.1},"axis":{"orient":"bottom","offset":-40,"title":null,"labelAngle":-45,"labelFontSize":7.5}}},
 "layer":[
  {"data":{"values":[{"g":"Ctrl","m":38.5,"lo":32,"hi":46},{"g":"Loading Ctrl","m":61,"lo":55,"hi":67},{"g":"AKT inh","m":26.5,"lo":18,"hi":36},{"g":"Load AKT","m":35.5,"lo":34,"hi":37}]},
   "layer":[
    {"mark":"bar","encoding":{"y":{"field":"m","type":"quantitative","scale":{"domain":[0,80],"range":[484,413],"nice":false},"axis":{"orient":"left","offset":-367,"values":[0,20,40,60,80],"title":"Relative amplitude, %","labelFontSize":8.5,"titleFontSize":8.5}},"color":{"field":"g","type":"nominal","scale":{"domain":["Ctrl","Loading Ctrl","AKT inh","Load AKT"],"range":["#000000","#ff0000","#0000ff","#9933ff"]},"legend":null}}},
    {"mark":{"type":"rule","color":"#000","strokeWidth":1.2},"encoding":{"y":{"field":"lo","type":"quantitative"},"y2":{"field":"hi"}}},
    {"mark":{"type":"tick","color":"#000","size":5,"thickness":1.2},"encoding":{"y":{"field":"hi","type":"quantitative"}}},
    {"mark":{"type":"tick","color":"#000","size":5,"thickness":1.2},"encoding":{"y":{"field":"lo","type":"quantitative"}}}]},
  {"data":{"values":[{"g":"Ctrl","v":46,"r":1},{"g":"Ctrl","v":37,"r":2},{"g":"Ctrl","v":32,"r":3},{"g":"Loading Ctrl","v":66,"r":2},{"g":"Loading Ctrl","v":60,"r":3},{"g":"Loading Ctrl","v":55,"r":1},{"g":"AKT inh","v":36,"r":2},{"g":"AKT inh","v":27,"r":3},{"g":"AKT inh","v":18,"r":1},{"g":"Load AKT","v":37,"r":1},{"g":"Load AKT","v":36,"r":2},{"g":"Load AKT","v":35,"r":3}]},
   "mark":{"type":"point","filled":false,"color":"#000","size":12,"strokeWidth":1},
   "encoding":{"y":{"field":"v","type":"quantitative"},"shape":{"field":"r","type":"nominal","scale":{"domain":[1,2,3],"range":["circle","square","triangle-up"]},"legend":null}}},
  {"data":{"values":[{"b":1,"o":1,"g":"Ctrl","y":48},{"b":1,"o":2,"g":"Ctrl","y":79},{"b":1,"o":3,"g":"Loading Ctrl","y":79},{"b":1,"o":4,"g":"Loading Ctrl","y":73},{"b":2,"o":1,"g":"Loading Ctrl","y":92},{"b":2,"o":2,"g":"Loading Ctrl","y":96.5},{"b":2,"o":3,"g":"Load AKT","y":96.5},{"b":2,"o":4,"g":"Load AKT","y":40}]},
   "mark":{"type":"line","color":"#777","strokeWidth":1},
   "encoding":{"y":{"field":"y","type":"quantitative"},"detail":{"field":"b"},"order":{"field":"o"}}},
  {"data":{"values":[{"g":"Loading Ctrl","y":81,"p":"0.0083"}]},"mark":{"type":"text","fontSize":8,"baseline":"bottom","color":"#333"},
   "encoding":{"x":{"field":"g","type":"nominal","bandPosition":0},"y":{"field":"y","type":"quantitative"},"text":{"field":"p"}}},
  {"data":{"values":[{"g":"AKT inh","y":98.5,"p":"0.0042"}]},"mark":{"type":"text","fontSize":8,"baseline":"bottom","color":"#333"},
   "encoding":{"y":{"field":"y","type":"quantitative"},"text":{"field":"p"}}}
 ]},
{"encoding":{"x":{"field":"g","type":"nominal","scale":{"domain":["AKT pS473","Total AKT"],"range":[468,535],"paddingInner":0.4,"paddingOuter":0.12},"axis":{"orient":"bottom","offset":-33,"title":"PLD2 inh +200 mOsm","titleY":-64,"titleBaseline":"alphabetic","titleFontSize":8,"labelAngle":-45,"labelFontSize":5.5,"labelFontWeight":"normal","domainWidth":1,"tickWidth":1,"tickSize":2}}},
 "layer":[
  {"data":{"values":[{"g":"AKT pS473","h":"0 hours","m":1.01,"lo":1.0,"hi":1.02},{"g":"AKT pS473","h":"8 hours","m":1.15,"lo":1.05,"hi":1.28},{"g":"Total AKT","h":"0 hours","m":1.05,"lo":1.03,"hi":1.06},{"g":"Total AKT","h":"8 hours","m":0.9,"lo":0.82,"hi":1.0}]},
   "encoding":{"xOffset":{"field":"h","type":"nominal","scale":{"domain":["0 hours","8 hours"],"paddingInner":0.2}}},
   "layer":[
    {"mark":"bar","encoding":{"y":{"field":"m","type":"quantitative","scale":{"domain":[0,2],"range":[491,433],"nice":false},"axis":{"orient":"left","offset":-468,"values":[0,0.5,1,1.5,2],"format":".1f","title":"Normalised intensity","labelFontSize":6,"titleFontSize":6,"labelFontWeight":"normal","titleFontWeight":"normal","domainWidth":1,"tickWidth":1,"tickSize":2,"titlePadding":2}},"color":{"field":"h","type":"nominal","scale":{"domain":["0 hours","8 hours"],"range":["#000000","#ff0000"]},"legend":null}}},
    {"mark":{"type":"rule","color":"#000","strokeWidth":1},"encoding":{"y":{"field":"lo","type":"quantitative"},"y2":{"field":"hi"}}},
    {"mark":{"type":"tick","color":"#000","size":4,"thickness":1},"encoding":{"y":{"field":"hi","type":"quantitative"}}},
    {"mark":{"type":"tick","color":"#000","size":4,"thickness":1},"encoding":{"y":{"field":"lo","type":"quantitative"}}}]},
  {"data":{"values":[{"g":"AKT pS473","h":"0 hours","v":1.02},{"g":"AKT pS473","h":"0 hours","v":1.01},{"g":"AKT pS473","h":"0 hours","v":1.0},{"g":"AKT pS473","h":"8 hours","v":1.28},{"g":"AKT pS473","h":"8 hours","v":1.2},{"g":"AKT pS473","h":"8 hours","v":1.05},{"g":"Total AKT","h":"0 hours","v":1.06},{"g":"Total AKT","h":"0 hours","v":1.05},{"g":"Total AKT","h":"0 hours","v":1.03},{"g":"Total AKT","h":"8 hours","v":1.0},{"g":"Total AKT","h":"8 hours","v":0.9},{"g":"Total AKT","h":"8 hours","v":0.82}]},
   "mark":{"type":"point","filled":true,"size":6,"opacity":1},
   "encoding":{"xOffset":{"field":"h","type":"nominal"},"y":{"field":"v","type":"quantitative"},"color":{"field":"h","type":"nominal","legend":null},"shape":{"field":"h","type":"nominal","scale":{"domain":["0 hours","8 hours"],"range":["circle","square"]},"legend":null}}},
  {"data":{"values":[{"g":"AKT pS473","y":2.62,"p":"k"}]},"mark":{"type":"text","fontSize":22,"fontWeight":"bold","align":"left","baseline":"alphabetic","dx":-5},
   "encoding":{"y":{"field":"y","type":"quantitative"},"text":{"field":"p"}}}
 ]},
{"encoding":{"x":{"field":"g","type":"nominal","scale":{"domain":["GSK3β pS9","GSK3β pS389","Total GSK3β"],"range":[570,658],"paddingInner":0.4,"paddingOuter":0.12},"axis":{"orient":"bottom","offset":-33,"title":"PLD2 inh +200 mOsm","titleY":-64,"titleBaseline":"alphabetic","titleFontSize":8,"labelAngle":-45,"labelFontSize":5.5,"labelFontWeight":"normal","domainWidth":1,"tickWidth":1,"tickSize":2}}},
 "layer":[
  {"data":{"values":[{"g":"GSK3β pS9","h":"0 hours","m":1.01,"lo":0.99,"hi":1.03},{"g":"GSK3β pS9","h":"8 hours","m":0.97,"lo":0.96,"hi":0.98},{"g":"GSK3β pS389","h":"0 hours","m":1.0,"lo":0.88,"hi":1.12},{"g":"GSK3β pS389","h":"8 hours","m":1.27,"lo":1.05,"hi":1.5},{"g":"Total GSK3β","h":"0 hours","m":1.0,"lo":0.92,"hi":1.1},{"g":"Total GSK3β","h":"8 hours","m":1.04,"lo":1.03,"hi":1.05}]},
   "encoding":{"xOffset":{"field":"h","type":"nominal","scale":{"domain":["0 hours","8 hours"],"paddingInner":0.2}}},
   "layer":[
    {"mark":"bar","encoding":{"y":{"field":"m","type":"quantitative","scale":{"domain":[0,2],"range":[491,433],"nice":false},"axis":{"orient":"left","offset":-570,"values":[0,0.5,1,1.5,2],"format":".1f","title":"Normalised intensity","labelFontSize":6,"titleFontSize":6,"labelFontWeight":"normal","titleFontWeight":"normal","domainWidth":1,"tickWidth":1,"tickSize":2,"titlePadding":2}},"color":{"field":"h","type":"nominal","scale":{"domain":["0 hours","8 hours"],"range":["#000000","#ff0000"]},"legend":{"title":null,"legendX":636,"legendY":433,"symbolStrokeWidth":0,"symbolSize":30,"labelFontSize":9.5,"rowPadding":3,"labelOffset":6}}}},
    {"mark":{"type":"rule","color":"#000","strokeWidth":1},"encoding":{"y":{"field":"lo","type":"quantitative"},"y2":{"field":"hi"}}},
    {"mark":{"type":"tick","color":"#000","size":4,"thickness":1},"encoding":{"y":{"field":"hi","type":"quantitative"}}},
    {"mark":{"type":"tick","color":"#000","size":4,"thickness":1},"encoding":{"y":{"field":"lo","type":"quantitative"}}}]},
  {"data":{"values":[{"g":"GSK3β pS9","h":"0 hours","v":1.03},{"g":"GSK3β pS9","h":"0 hours","v":1.01},{"g":"GSK3β pS9","h":"0 hours","v":0.99},{"g":"GSK3β pS9","h":"8 hours","v":0.98},{"g":"GSK3β pS9","h":"8 hours","v":0.97},{"g":"GSK3β pS9","h":"8 hours","v":0.96},{"g":"GSK3β pS389","h":"0 hours","v":1.12},{"g":"GSK3β pS389","h":"0 hours","v":1.0},{"g":"GSK3β pS389","h":"0 hours","v":0.88},{"g":"GSK3β pS389","h":"8 hours","v":1.5},{"g":"GSK3β pS389","h":"8 hours","v":1.3},{"g":"GSK3β pS389","h":"8 hours","v":1.05},{"g":"Total GSK3β","h":"0 hours","v":1.1},{"g":"Total GSK3β","h":"0 hours","v":1.0},{"g":"Total GSK3β","h":"0 hours","v":0.92},{"g":"Total GSK3β","h":"8 hours","v":1.05},{"g":"Total GSK3β","h":"8 hours","v":1.04},{"g":"Total GSK3β","h":"8 hours","v":1.03}]},
   "mark":{"type":"point","filled":true,"size":6,"opacity":1},
   "encoding":{"xOffset":{"field":"h","type":"nominal"},"y":{"field":"v","type":"quantitative"},"color":{"field":"h","type":"nominal","legend":{"title":null,"legendX":636,"legendY":433,"symbolStrokeWidth":0,"symbolSize":30,"labelFontSize":9.5,"rowPadding":3,"labelOffset":6}},"shape":{"field":"h","type":"nominal","scale":{"domain":["0 hours","8 hours"],"range":["circle","square"]},"legend":{"title":null,"legendX":636,"legendY":433,"symbolStrokeWidth":0,"symbolSize":30,"labelFontSize":9.5,"rowPadding":3,"labelOffset":6}}}}
 ]}
]
}
